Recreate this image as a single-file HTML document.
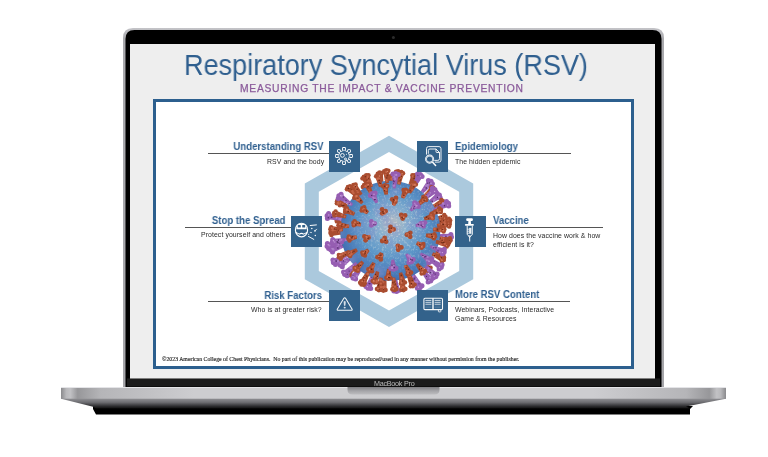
<!DOCTYPE html>
<html><head><meta charset="utf-8">
<style>
*{margin:0;padding:0;box-sizing:border-box}
html,body{width:768px;height:457px;background:#fff;overflow:hidden;position:relative;font-family:"Liberation Sans",sans-serif}
.abs{position:absolute}
#title,#sub,.t,.s,#copy,.mbp{will-change:transform}
#lid{left:123px;top:28px;width:541px;height:360px;border-radius:11px 11px 0 0;background:linear-gradient(#b9b9bc,#8c8c90);}
#bezel{left:125px;top:30px;width:537px;height:358px;border-radius:9px 9px 0 0;background:#000;}
#screen{left:130px;top:44px;width:525px;height:334px;background:#eeeeee;}
#chin{left:125px;top:378px;width:537px;height:10px;background:#111;}
#base{left:61px;top:387px;width:665px;height:14px;background:linear-gradient(#cfcfd2,#b8b8bb 60%,#8a8a8e);border-radius:0 0 40% 40%/0 0 100% 100%}
#title{left:184.3px;top:47.6px;font-size:29px;transform:scaleX(0.933);transform-origin:0 0;color:#2f5f8f;white-space:nowrap;line-height:34px}
#sub{left:240px;top:83px;font-size:10.3px;color:#8a5a9a;white-space:nowrap;letter-spacing:0.73px;-webkit-text-stroke:0.25px #8a5a9a;line-height:12px}
#frame{left:153px;top:99px;width:481px;height:270px;border:3px solid #2c5f8e;background:#fff}
.box{position:absolute;width:31px;height:31px;background:#33628b}
.line{position:absolute;height:1px;background:#555}
.t{position:absolute;font-weight:bold;font-size:10.5px;transform:scaleX(0.915);transform-origin:0 0;color:#2f5f8f;white-space:nowrap;line-height:12px}
.s{position:absolute;font-size:6.9px;letter-spacing:0.08px;color:#2a2a2a;white-space:nowrap;line-height:10px}
.r{text-align:right}
.t.r{transform-origin:100% 0}
#copy{left:162px;top:355.6px;font-family:"Liberation Serif",serif;font-size:5.82px;line-height:7px;color:#2a2a2a;-webkit-text-stroke:0.15px #2a2a2a;white-space:nowrap}
</style></head><body>
<svg class="abs" style="left:0;top:0" width="768" height="457">
<defs>
<linearGradient id="under" gradientUnits="userSpaceOnUse" x1="0" y1="398.7" x2="0" y2="409">
<stop offset="0" stop-color="#8e8e92"/><stop offset="0.35" stop-color="#6e6e72"/><stop offset="0.75" stop-color="#2a2a2c"/><stop offset="1" stop-color="#080808"/>
</linearGradient>
<linearGradient id="silv" x1="0" y1="0" x2="1" y2="0">
<stop offset="0" stop-color="#8a8a8d"/><stop offset="0.008" stop-color="#b9b9bc"/><stop offset="0.014" stop-color="#c2c2c5"/><stop offset="0.025" stop-color="#97979a"/><stop offset="0.06" stop-color="#b5b5b8"/><stop offset="0.2" stop-color="#cdcdd0"/>
<stop offset="0.8" stop-color="#cdcdd0"/><stop offset="0.94" stop-color="#b5b5b8"/><stop offset="0.975" stop-color="#97979a"/><stop offset="0.986" stop-color="#c2c2c5"/><stop offset="0.992" stop-color="#b9b9bc"/><stop offset="1" stop-color="#8a8a8d"/>
</linearGradient>
</defs>
<linearGradient id="rim" x1="0" y1="0" x2="0" y2="1"><stop offset="0" stop-color="#c4c4c8"/><stop offset="0.03" stop-color="#a9a9ad"/><stop offset="1" stop-color="#a5a5a9"/></linearGradient>
<path d="M123,387 V38 Q123,28 133,28 H654 Q664,28 664,38 V387 Z" fill="url(#rim)"/>
<path d="M125.5,387 V39 Q125.5,30 134.5,30 H652.5 Q661.5,30 661.5,39 V387 Z" fill="#000"/>
<rect x="127" y="378.4" width="533" height="8.1" fill="#1b1b1b"/>
<rect x="130" y="44" width="525" height="334.5" fill="#eeeeee"/>
<circle cx="393.4" cy="37.4" r="1.5" fill="#2c2c2c"/>
<path d="M93,406 H693 L690,409 V414.5 H96 L93,409 Z" fill="#000"/>
<path d="M61,387 H726 V398.7 L686,406.5 L690,408.5 H96 L93,406.8 L61,398.7 Z" fill="url(#under)"/>
<rect x="61" y="387" width="665" height="11.7" fill="url(#silv)"/>
<rect x="61" y="387" width="665" height="1" fill="#e4e4e7"/>
<linearGradient id="notch" x1="0" y1="0" x2="0" y2="1"><stop offset="0" stop-color="#7e7e82"/><stop offset="0.5" stop-color="#a4a4a8"/><stop offset="1" stop-color="#bdbdc0"/></linearGradient>
<path d="M347.5,387 H439.5 V389.5 Q439.5,394.6 434.5,394.6 H352.5 Q347.5,394.6 347.5,389.5 Z" fill="url(#notch)"/>
</svg>
<div class="abs mbp" style="left:373.5px;top:378.6px;font-size:7.2px;line-height:9px;color:#bdbdbd;white-space:nowrap;letter-spacing:-0.25px">MacBook Pro</div>
<div id="title" class="abs">Respiratory Syncytial Virus (RSV)</div>
<div id="sub" class="abs">MEASURING THE IMPACT &amp; VACCINE PREVENTION</div>
<div id="frame" class="abs"></div>
<svg class="abs" style="left:0;top:0" width="768" height="457">
<path fill-rule="evenodd" fill="#abc9dd" d="M389,135.7 L473.2,183.5 L473.2,279.2 L389,327 L304.8,279.2 L304.8,183.5 Z M389,152.1 L459.2,191.7 L459.2,271 L389,310.6 L318.8,271 L318.8,191.7 Z"/>
</svg>
<svg class="abs" style="left:0;top:0" width="768" height="457">
<defs>
<radialGradient id="sph" cx="0.52" cy="0.47" r="0.6" fx="0.52" fy="0.42">
<stop offset="0" stop-color="#c2c6c2"/>
<stop offset="0.25" stop-color="#86afd0"/>
<stop offset="0.55" stop-color="#5b96c8"/>
<stop offset="0.85" stop-color="#4573b4"/>
<stop offset="1" stop-color="#375a9e"/>
</radialGradient>
<radialGradient id="mg" cx="0.58" cy="0.45" r="0.55"><stop offset="0" stop-color="#fff"/><stop offset="0.6" stop-color="#888"/><stop offset="1" stop-color="#000"/></radialGradient>
<mask id="mk"><rect x="340.3" y="180.8" width="100.0" height="100.0" fill="url(#mg)"/></mask>
<clipPath id="sc"><circle cx="390.3" cy="230.8" r="50.0"/></clipPath>
<filter id="tx" x="0" y="0" width="1" height="1">
<feTurbulence type="fractalNoise" baseFrequency="0.05" numOctaves="2" seed="3"/>
<feColorMatrix type="matrix" values="0 0 0 0 0.22  0 0 0 0 0.28  0 0 0 0 0.58  0 0 0 -3 1.6"/>
</filter>
<filter id="tx2" x="0" y="0" width="1" height="1">
<feTurbulence type="fractalNoise" baseFrequency="0.45" numOctaves="2" seed="8"/>
<feColorMatrix type="matrix" values="0 0 0 0 0.93  0 0 0 0 0.9  0 0 0 0 0.82  0 0 0 3 -1.5"/>
</filter>
</defs>
<path d="M371.1,193.8 L367.3,184.3 L361.9,187.4 L368.2,195.5Z" fill="#aa4d30"/><circle cx="362.8" cy="186.9" r="2.2" fill="#aa4d30"/><circle cx="364.2" cy="185.2" r="2.4" fill="#aa4d30"/><circle cx="366.4" cy="184.8" r="2.2" fill="#aa4d30"/><circle cx="368.2" cy="193.3" r="1.2" fill="#c6674a"/><circle cx="364.7" cy="187.2" r="1.2" fill="#c6674a"/><circle cx="366.3" cy="187.2" r="1.1" fill="#c6674a"/><circle cx="365.2" cy="188.0" r="1.2" fill="#c6674a"/><circle cx="367.8" cy="191.5" r="1.2" fill="#c6674a"/><circle cx="365.2" cy="188.3" r="0.8" fill="#6a2814"/><circle cx="366.2" cy="188.2" r="0.5" fill="#6a2814"/><circle cx="365.7" cy="189.4" r="0.7" fill="#6a2814"/><circle cx="365.9" cy="185.7" r="0.7" fill="#dc8666"/><path d="M406.6,270.8 L409.8,281.1 L415.4,278.5 L409.7,269.4Z" fill="#aa4d30"/><circle cx="414.5" cy="278.9" r="2.2" fill="#aa4d30"/><circle cx="412.9" cy="280.4" r="2.4" fill="#aa4d30"/><circle cx="410.7" cy="280.7" r="2.2" fill="#aa4d30"/><circle cx="409.5" cy="275.6" r="1.1" fill="#c6674a"/><circle cx="412.3" cy="277.8" r="1.1" fill="#c6674a"/><circle cx="410.4" cy="278.0" r="1.0" fill="#c6674a"/><circle cx="410.6" cy="279.1" r="1.1" fill="#c6674a"/><circle cx="410.7" cy="280.4" r="1.1" fill="#c6674a"/><circle cx="411.9" cy="275.7" r="0.8" fill="#6a2814"/><circle cx="412.4" cy="279.3" r="0.7" fill="#6a2814"/><circle cx="410.9" cy="278.0" r="0.6" fill="#6a2814"/><circle cx="411.3" cy="279.8" r="0.7" fill="#dc8666"/><path d="M392.7,187.5 L394.3,176.8 L388.1,176.7 L389.3,187.4Z" fill="#aa4d30"/><circle cx="389.1" cy="176.8" r="2.2" fill="#aa4d30"/><circle cx="391.2" cy="176.1" r="2.4" fill="#aa4d30"/><circle cx="393.3" cy="176.8" r="2.2" fill="#aa4d30"/><circle cx="391.4" cy="178.9" r="1.1" fill="#c6674a"/><circle cx="391.5" cy="182.4" r="1.2" fill="#c6674a"/><circle cx="391.9" cy="180.3" r="0.8" fill="#c6674a"/><circle cx="390.9" cy="184.9" r="1.1" fill="#c6674a"/><circle cx="391.6" cy="184.3" r="1.1" fill="#c6674a"/><circle cx="391.0" cy="185.0" r="0.6" fill="#6a2814"/><circle cx="390.1" cy="184.8" r="0.6" fill="#6a2814"/><circle cx="390.2" cy="183.8" r="0.5" fill="#6a2814"/><circle cx="392.4" cy="177.3" r="0.7" fill="#dc8666"/><path d="M348.1,219.9 L337.9,216.3 L336.6,222.3 L347.3,223.2Z" fill="#aa4d30"/><circle cx="336.8" cy="221.4" r="2.2" fill="#aa4d30"/><circle cx="336.5" cy="219.2" r="2.4" fill="#aa4d30"/><circle cx="337.7" cy="217.3" r="2.2" fill="#aa4d30"/><circle cx="342.2" cy="220.8" r="1.1" fill="#c6674a"/><circle cx="340.9" cy="221.1" r="1.3" fill="#c6674a"/><circle cx="346.6" cy="221.6" r="0.9" fill="#c6674a"/><circle cx="342.5" cy="221.8" r="1.2" fill="#c6674a"/><circle cx="342.8" cy="222.1" r="1.1" fill="#c6674a"/><circle cx="344.8" cy="220.8" r="0.6" fill="#6a2814"/><circle cx="341.0" cy="218.7" r="0.7" fill="#6a2814"/><circle cx="342.3" cy="219.5" r="0.7" fill="#6a2814"/><circle cx="338.0" cy="218.2" r="0.7" fill="#dc8666"/><path d="M410.2,191.8 L418.4,179.5 L412.3,176.5 L407.9,190.7Z" fill="#965eb2"/><circle cx="413.0" cy="176.9" r="2.5" fill="#965eb2"/><circle cx="415.6" cy="177.4" r="2.7" fill="#965eb2"/><circle cx="417.7" cy="179.1" r="2.5" fill="#965eb2"/><circle cx="410.8" cy="185.0" r="1.1" fill="#ad80c8"/><circle cx="414.4" cy="183.9" r="1.3" fill="#ad80c8"/><circle cx="412.6" cy="182.4" r="1.2" fill="#ad80c8"/><circle cx="408.9" cy="189.5" r="1.1" fill="#ad80c8"/><circle cx="411.9" cy="182.0" r="1.1" fill="#ad80c8"/><circle cx="414.4" cy="178.9" r="0.6" fill="#4e2c66"/><circle cx="411.0" cy="186.0" r="0.8" fill="#4e2c66"/><circle cx="413.4" cy="185.1" r="0.8" fill="#4e2c66"/><circle cx="416.2" cy="179.0" r="0.7" fill="#c9a0dc"/><path d="M420.3,262.9 L427.0,271.5 L431.3,267.1 L422.7,260.5Z" fill="#aa4d30"/><circle cx="430.6" cy="267.8" r="2.2" fill="#aa4d30"/><circle cx="429.7" cy="269.8" r="2.4" fill="#aa4d30"/><circle cx="427.7" cy="270.8" r="2.2" fill="#aa4d30"/><circle cx="427.0" cy="265.9" r="1.3" fill="#c6674a"/><circle cx="425.9" cy="265.6" r="1.0" fill="#c6674a"/><circle cx="429.1" cy="269.2" r="0.9" fill="#c6674a"/><circle cx="426.4" cy="264.8" r="1.1" fill="#c6674a"/><circle cx="425.8" cy="265.0" r="1.2" fill="#c6674a"/><circle cx="429.3" cy="267.0" r="0.7" fill="#6a2814"/><circle cx="423.8" cy="265.7" r="0.7" fill="#6a2814"/><circle cx="425.0" cy="264.3" r="0.5" fill="#6a2814"/><circle cx="428.0" cy="269.8" r="0.7" fill="#dc8666"/><path d="M361.8,264.9 L350.9,275.3 L356.3,279.6 L363.8,266.5Z" fill="#965eb2"/><circle cx="355.6" cy="279.1" r="2.5" fill="#965eb2"/><circle cx="353.2" cy="278.0" r="2.7" fill="#965eb2"/><circle cx="351.6" cy="275.8" r="2.5" fill="#965eb2"/><circle cx="354.5" cy="277.9" r="1.1" fill="#ad80c8"/><circle cx="357.6" cy="271.6" r="1.1" fill="#ad80c8"/><circle cx="356.9" cy="275.7" r="1.2" fill="#ad80c8"/><circle cx="359.3" cy="270.0" r="1.0" fill="#ad80c8"/><circle cx="359.4" cy="270.0" r="1.0" fill="#ad80c8"/><circle cx="357.8" cy="271.0" r="0.7" fill="#4e2c66"/><circle cx="361.1" cy="268.8" r="0.6" fill="#4e2c66"/><circle cx="353.0" cy="275.7" r="0.7" fill="#4e2c66"/><circle cx="353.0" cy="276.3" r="0.7" fill="#c9a0dc"/><path d="M427.3,205.6 L440.7,198.4 L436.7,192.9 L425.8,203.5Z" fill="#965eb2"/><circle cx="437.1" cy="193.6" r="2.5" fill="#965eb2"/><circle cx="439.2" cy="195.3" r="2.7" fill="#965eb2"/><circle cx="440.2" cy="197.8" r="2.5" fill="#965eb2"/><circle cx="428.2" cy="204.0" r="1.0" fill="#ad80c8"/><circle cx="434.5" cy="199.7" r="1.1" fill="#ad80c8"/><circle cx="433.8" cy="200.9" r="1.0" fill="#ad80c8"/><circle cx="432.7" cy="201.4" r="0.9" fill="#ad80c8"/><circle cx="431.5" cy="202.1" r="0.8" fill="#ad80c8"/><circle cx="437.5" cy="197.4" r="0.6" fill="#4e2c66"/><circle cx="432.2" cy="201.3" r="0.8" fill="#4e2c66"/><circle cx="430.3" cy="201.7" r="0.7" fill="#4e2c66"/><circle cx="439.0" cy="197.0" r="0.7" fill="#c9a0dc"/><path d="M352.6,255.0 L339.0,261.8 L342.8,267.4 L354.0,257.2Z" fill="#965eb2"/><circle cx="342.3" cy="266.8" r="2.5" fill="#965eb2"/><circle cx="340.3" cy="265.0" r="2.7" fill="#965eb2"/><circle cx="339.4" cy="262.5" r="2.5" fill="#965eb2"/><circle cx="346.8" cy="261.2" r="0.9" fill="#ad80c8"/><circle cx="344.9" cy="260.5" r="0.8" fill="#ad80c8"/><circle cx="349.0" cy="258.0" r="1.2" fill="#ad80c8"/><circle cx="345.7" cy="263.5" r="1.2" fill="#ad80c8"/><circle cx="339.8" cy="262.5" r="1.2" fill="#ad80c8"/><circle cx="349.9" cy="257.5" r="0.6" fill="#4e2c66"/><circle cx="343.5" cy="260.9" r="0.7" fill="#4e2c66"/><circle cx="349.8" cy="259.1" r="0.8" fill="#4e2c66"/><circle cx="340.6" cy="263.3" r="0.7" fill="#c9a0dc"/><path d="M393.7,275.7 L393.1,290.9 L399.9,290.2 L396.2,275.4Z" fill="#965eb2"/><circle cx="399.1" cy="290.3" r="2.5" fill="#965eb2"/><circle cx="396.6" cy="291.3" r="2.7" fill="#965eb2"/><circle cx="393.9" cy="290.9" r="2.5" fill="#965eb2"/><circle cx="395.0" cy="279.1" r="1.0" fill="#ad80c8"/><circle cx="395.0" cy="279.3" r="0.8" fill="#ad80c8"/><circle cx="395.5" cy="278.5" r="0.8" fill="#ad80c8"/><circle cx="395.0" cy="277.9" r="1.2" fill="#ad80c8"/><circle cx="398.0" cy="288.8" r="1.0" fill="#ad80c8"/><circle cx="395.4" cy="282.4" r="0.6" fill="#4e2c66"/><circle cx="396.9" cy="289.8" r="0.5" fill="#4e2c66"/><circle cx="397.3" cy="286.8" r="0.7" fill="#4e2c66"/><circle cx="395.3" cy="290.2" r="0.7" fill="#c9a0dc"/><path d="M434.3,221.4 L445.5,220.0 L444.0,214.0 L433.5,218.1Z" fill="#aa4d30"/><circle cx="444.3" cy="215.0" r="2.2" fill="#aa4d30"/><circle cx="445.4" cy="216.9" r="2.4" fill="#aa4d30"/><circle cx="445.3" cy="219.1" r="2.2" fill="#aa4d30"/><circle cx="440.3" cy="219.6" r="1.1" fill="#c6674a"/><circle cx="440.9" cy="217.1" r="1.1" fill="#c6674a"/><circle cx="437.7" cy="219.6" r="1.1" fill="#c6674a"/><circle cx="436.1" cy="218.4" r="1.0" fill="#c6674a"/><circle cx="441.9" cy="216.5" r="1.2" fill="#c6674a"/><circle cx="441.4" cy="216.5" r="0.7" fill="#6a2814"/><circle cx="436.7" cy="218.1" r="0.7" fill="#6a2814"/><circle cx="438.4" cy="219.7" r="0.6" fill="#6a2814"/><circle cx="444.6" cy="218.3" r="0.7" fill="#dc8666"/><path d="M351.5,207.4 L342.4,200.7 L339.3,206.1 L349.9,210.4Z" fill="#aa4d30"/><circle cx="339.8" cy="205.3" r="2.2" fill="#aa4d30"/><circle cx="340.2" cy="203.1" r="2.4" fill="#aa4d30"/><circle cx="341.9" cy="201.6" r="2.2" fill="#aa4d30"/><circle cx="347.3" cy="205.9" r="0.8" fill="#c6674a"/><circle cx="342.5" cy="206.3" r="0.9" fill="#c6674a"/><circle cx="341.6" cy="203.0" r="0.9" fill="#c6674a"/><circle cx="349.3" cy="206.6" r="1.1" fill="#c6674a"/><circle cx="341.7" cy="205.6" r="1.1" fill="#c6674a"/><circle cx="345.6" cy="206.9" r="0.6" fill="#6a2814"/><circle cx="343.7" cy="205.5" r="0.6" fill="#6a2814"/><circle cx="348.1" cy="206.5" r="0.7" fill="#6a2814"/><circle cx="341.9" cy="202.6" r="0.7" fill="#dc8666"/><path d="M435.3,236.8 L450.2,240.4 L450.9,233.7 L435.5,234.2Z" fill="#965eb2"/><circle cx="450.9" cy="234.5" r="2.5" fill="#965eb2"/><circle cx="451.3" cy="237.1" r="2.7" fill="#965eb2"/><circle cx="450.3" cy="239.7" r="2.5" fill="#965eb2"/><circle cx="447.9" cy="236.5" r="1.2" fill="#ad80c8"/><circle cx="444.0" cy="236.7" r="1.1" fill="#ad80c8"/><circle cx="447.1" cy="236.3" r="0.8" fill="#ad80c8"/><circle cx="437.4" cy="235.0" r="0.8" fill="#ad80c8"/><circle cx="449.1" cy="236.8" r="1.2" fill="#ad80c8"/><circle cx="438.5" cy="235.7" r="0.8" fill="#4e2c66"/><circle cx="446.0" cy="236.4" r="0.6" fill="#4e2c66"/><circle cx="439.7" cy="235.2" r="0.5" fill="#4e2c66"/><circle cx="450.0" cy="238.2" r="0.7" fill="#c9a0dc"/><path d="M372.6,272.7 L365.1,286.3 L371.5,288.7 L375.1,273.7Z" fill="#965eb2"/><circle cx="370.7" cy="288.4" r="2.5" fill="#965eb2"/><circle cx="368.1" cy="288.1" r="2.7" fill="#965eb2"/><circle cx="365.9" cy="286.5" r="2.5" fill="#965eb2"/><circle cx="371.8" cy="279.6" r="1.2" fill="#ad80c8"/><circle cx="373.1" cy="276.8" r="0.9" fill="#ad80c8"/><circle cx="373.0" cy="276.9" r="0.9" fill="#ad80c8"/><circle cx="372.4" cy="281.4" r="1.3" fill="#ad80c8"/><circle cx="370.2" cy="278.9" r="1.1" fill="#ad80c8"/><circle cx="369.8" cy="283.8" r="0.8" fill="#4e2c66"/><circle cx="371.9" cy="277.3" r="0.6" fill="#4e2c66"/><circle cx="369.0" cy="283.5" r="0.5" fill="#4e2c66"/><circle cx="367.4" cy="286.6" r="0.7" fill="#c9a0dc"/><path d="M360.7,195.9 L354.1,186.5 L349.5,190.7 L358.2,198.1Z" fill="#aa4d30"/><circle cx="350.2" cy="190.0" r="2.2" fill="#aa4d30"/><circle cx="351.3" cy="188.1" r="2.4" fill="#aa4d30"/><circle cx="353.3" cy="187.2" r="2.2" fill="#aa4d30"/><circle cx="356.3" cy="195.6" r="0.9" fill="#c6674a"/><circle cx="358.0" cy="195.7" r="1.3" fill="#c6674a"/><circle cx="355.7" cy="193.8" r="1.0" fill="#c6674a"/><circle cx="357.3" cy="193.5" r="1.2" fill="#c6674a"/><circle cx="357.0" cy="195.4" r="1.1" fill="#c6674a"/><circle cx="352.5" cy="188.6" r="0.6" fill="#6a2814"/><circle cx="350.6" cy="190.0" r="0.5" fill="#6a2814"/><circle cx="352.9" cy="190.3" r="0.5" fill="#6a2814"/><circle cx="353.0" cy="188.1" r="0.7" fill="#dc8666"/><path d="M346.1,243.6 L330.7,246.3 L332.8,252.8 L346.9,246.1Z" fill="#965eb2"/><circle cx="332.5" cy="252.0" r="2.5" fill="#965eb2"/><circle cx="331.0" cy="249.8" r="2.7" fill="#965eb2"/><circle cx="330.9" cy="247.1" r="2.5" fill="#965eb2"/><circle cx="337.2" cy="246.0" r="1.1" fill="#ad80c8"/><circle cx="340.7" cy="248.0" r="0.8" fill="#ad80c8"/><circle cx="333.1" cy="249.2" r="1.3" fill="#ad80c8"/><circle cx="344.5" cy="246.1" r="0.8" fill="#ad80c8"/><circle cx="340.2" cy="248.3" r="0.9" fill="#ad80c8"/><circle cx="338.9" cy="247.9" r="0.5" fill="#4e2c66"/><circle cx="342.8" cy="245.0" r="0.6" fill="#4e2c66"/><circle cx="337.6" cy="248.0" r="0.7" fill="#4e2c66"/><circle cx="331.8" cy="248.3" r="0.7" fill="#c9a0dc"/><path d="M431.3,252.3 L441.1,258.5 L443.8,253.0 L432.7,249.2Z" fill="#aa4d30"/><circle cx="443.3" cy="253.9" r="2.2" fill="#aa4d30"/><circle cx="443.1" cy="256.1" r="2.4" fill="#aa4d30"/><circle cx="441.5" cy="257.6" r="2.2" fill="#aa4d30"/><circle cx="434.1" cy="251.2" r="0.9" fill="#c6674a"/><circle cx="437.5" cy="255.0" r="1.1" fill="#c6674a"/><circle cx="441.6" cy="254.1" r="0.8" fill="#c6674a"/><circle cx="438.1" cy="253.6" r="1.1" fill="#c6674a"/><circle cx="436.4" cy="253.3" r="1.2" fill="#c6674a"/><circle cx="442.0" cy="254.8" r="0.6" fill="#6a2814"/><circle cx="441.4" cy="254.2" r="0.5" fill="#6a2814"/><circle cx="437.2" cy="252.0" r="0.7" fill="#6a2814"/><circle cx="441.5" cy="256.6" r="0.7" fill="#dc8666"/><path d="M383.6,184.5 L382.8,172.7 L376.7,173.9 L380.2,185.1Z" fill="#aa4d30"/><circle cx="377.7" cy="173.7" r="2.2" fill="#aa4d30"/><circle cx="379.6" cy="172.6" r="2.4" fill="#aa4d30"/><circle cx="381.8" cy="172.9" r="2.2" fill="#aa4d30"/><circle cx="379.4" cy="175.3" r="0.9" fill="#c6674a"/><circle cx="380.8" cy="183.0" r="0.8" fill="#c6674a"/><circle cx="381.1" cy="179.2" r="0.9" fill="#c6674a"/><circle cx="382.1" cy="182.9" r="0.8" fill="#c6674a"/><circle cx="380.7" cy="181.7" r="1.0" fill="#c6674a"/><circle cx="381.1" cy="181.7" r="0.6" fill="#6a2814"/><circle cx="380.4" cy="175.6" r="0.8" fill="#6a2814"/><circle cx="381.2" cy="176.3" r="0.7" fill="#6a2814"/><circle cx="381.0" cy="173.6" r="0.7" fill="#dc8666"/><path d="M343.1,230.8 L331.2,229.8 L331.4,236.0 L343.2,234.2Z" fill="#aa4d30"/><circle cx="331.4" cy="235.0" r="2.2" fill="#aa4d30"/><circle cx="330.6" cy="232.9" r="2.4" fill="#aa4d30"/><circle cx="331.3" cy="230.8" r="2.2" fill="#aa4d30"/><circle cx="337.2" cy="231.6" r="1.1" fill="#c6674a"/><circle cx="331.8" cy="231.9" r="1.2" fill="#c6674a"/><circle cx="339.1" cy="231.7" r="1.0" fill="#c6674a"/><circle cx="340.6" cy="233.8" r="0.9" fill="#c6674a"/><circle cx="339.2" cy="232.1" r="0.9" fill="#c6674a"/><circle cx="340.2" cy="232.0" r="0.7" fill="#6a2814"/><circle cx="340.6" cy="233.7" r="0.5" fill="#6a2814"/><circle cx="337.4" cy="231.7" r="0.8" fill="#6a2814"/><circle cx="331.8" cy="231.7" r="0.7" fill="#dc8666"/><path d="M421.3,195.2 L433.1,184.2 L427.8,179.9 L419.3,193.5Z" fill="#965eb2"/><circle cx="428.4" cy="180.4" r="2.5" fill="#965eb2"/><circle cx="430.9" cy="181.5" r="2.7" fill="#965eb2"/><circle cx="432.4" cy="183.7" r="2.5" fill="#965eb2"/><circle cx="426.1" cy="185.7" r="1.0" fill="#ad80c8"/><circle cx="424.2" cy="188.8" r="0.8" fill="#ad80c8"/><circle cx="427.6" cy="187.4" r="1.2" fill="#ad80c8"/><circle cx="422.2" cy="192.1" r="0.9" fill="#ad80c8"/><circle cx="427.6" cy="185.1" r="1.3" fill="#ad80c8"/><circle cx="427.7" cy="183.2" r="0.6" fill="#4e2c66"/><circle cx="429.6" cy="182.8" r="0.6" fill="#4e2c66"/><circle cx="426.5" cy="188.0" r="0.8" fill="#4e2c66"/><circle cx="431.0" cy="183.2" r="0.7" fill="#c9a0dc"/><path d="M411.1,273.4 L416.7,288.6 L422.7,285.4 L413.4,272.2Z" fill="#965eb2"/><circle cx="422.0" cy="285.8" r="2.5" fill="#965eb2"/><circle cx="420.0" cy="287.6" r="2.7" fill="#965eb2"/><circle cx="417.4" cy="288.2" r="2.5" fill="#965eb2"/><circle cx="415.1" cy="281.8" r="1.1" fill="#ad80c8"/><circle cx="413.0" cy="275.9" r="1.0" fill="#ad80c8"/><circle cx="412.4" cy="275.4" r="0.8" fill="#ad80c8"/><circle cx="416.9" cy="281.6" r="1.2" fill="#ad80c8"/><circle cx="416.4" cy="278.8" r="0.9" fill="#ad80c8"/><circle cx="414.8" cy="278.0" r="0.6" fill="#4e2c66"/><circle cx="419.0" cy="283.8" r="0.6" fill="#4e2c66"/><circle cx="414.1" cy="279.0" r="0.8" fill="#4e2c66"/><circle cx="418.4" cy="287.1" r="0.7" fill="#c9a0dc"/><path d="M398.2,184.0 L401.1,172.4 L395.0,171.6 L394.8,183.6Z" fill="#aa4d30"/><circle cx="396.0" cy="171.7" r="2.2" fill="#aa4d30"/><circle cx="398.1" cy="171.3" r="2.4" fill="#aa4d30"/><circle cx="400.1" cy="172.3" r="2.2" fill="#aa4d30"/><circle cx="398.3" cy="173.7" r="1.0" fill="#c6674a"/><circle cx="397.8" cy="181.2" r="1.0" fill="#c6674a"/><circle cx="395.8" cy="182.1" r="0.8" fill="#c6674a"/><circle cx="399.2" cy="175.2" r="0.9" fill="#c6674a"/><circle cx="397.1" cy="174.1" r="1.1" fill="#c6674a"/><circle cx="398.3" cy="173.4" r="0.7" fill="#6a2814"/><circle cx="395.9" cy="177.7" r="0.7" fill="#6a2814"/><circle cx="396.5" cy="175.8" r="0.6" fill="#6a2814"/><circle cx="399.2" cy="172.7" r="0.7" fill="#dc8666"/><path d="M371.0,187.4 L367.1,176.1 L361.5,178.8 L368.0,188.9Z" fill="#aa4d30"/><circle cx="362.4" cy="178.4" r="2.2" fill="#aa4d30"/><circle cx="364.0" cy="176.8" r="2.4" fill="#aa4d30"/><circle cx="366.2" cy="176.5" r="2.2" fill="#aa4d30"/><circle cx="366.2" cy="184.7" r="1.0" fill="#c6674a"/><circle cx="367.1" cy="183.4" r="1.2" fill="#c6674a"/><circle cx="368.5" cy="182.6" r="1.2" fill="#c6674a"/><circle cx="365.4" cy="177.8" r="1.1" fill="#c6674a"/><circle cx="367.4" cy="181.5" r="1.0" fill="#c6674a"/><circle cx="366.5" cy="180.7" r="0.7" fill="#6a2814"/><circle cx="366.2" cy="184.1" r="0.5" fill="#6a2814"/><circle cx="367.2" cy="182.9" r="0.7" fill="#6a2814"/><circle cx="365.6" cy="177.4" r="0.7" fill="#dc8666"/><path d="M383.2,277.7 L380.4,289.4 L386.6,290.1 L386.5,278.1Z" fill="#aa4d30"/><circle cx="385.6" cy="290.0" r="2.2" fill="#aa4d30"/><circle cx="383.4" cy="290.5" r="2.4" fill="#aa4d30"/><circle cx="381.4" cy="289.5" r="2.2" fill="#aa4d30"/><circle cx="384.6" cy="286.8" r="1.3" fill="#c6674a"/><circle cx="383.7" cy="282.0" r="0.8" fill="#c6674a"/><circle cx="383.1" cy="287.1" r="1.3" fill="#c6674a"/><circle cx="382.8" cy="288.6" r="1.2" fill="#c6674a"/><circle cx="383.4" cy="286.9" r="0.9" fill="#c6674a"/><circle cx="382.8" cy="285.0" r="0.6" fill="#6a2814"/><circle cx="383.4" cy="289.5" r="0.6" fill="#6a2814"/><circle cx="384.8" cy="280.3" r="0.6" fill="#6a2814"/><circle cx="382.4" cy="289.1" r="0.7" fill="#dc8666"/><path d="M422.9,265.5 L432.8,278.4 L437.6,273.6 L424.8,263.6Z" fill="#965eb2"/><circle cx="437.1" cy="274.1" r="2.5" fill="#965eb2"/><circle cx="435.7" cy="276.5" r="2.7" fill="#965eb2"/><circle cx="433.4" cy="277.8" r="2.5" fill="#965eb2"/><circle cx="430.6" cy="273.5" r="1.3" fill="#ad80c8"/><circle cx="431.6" cy="271.7" r="0.9" fill="#ad80c8"/><circle cx="431.9" cy="272.9" r="1.2" fill="#ad80c8"/><circle cx="428.0" cy="270.4" r="0.9" fill="#ad80c8"/><circle cx="428.6" cy="268.4" r="1.1" fill="#ad80c8"/><circle cx="435.2" cy="274.1" r="0.7" fill="#4e2c66"/><circle cx="433.8" cy="273.1" r="0.5" fill="#4e2c66"/><circle cx="430.5" cy="272.8" r="0.8" fill="#4e2c66"/><circle cx="434.0" cy="276.5" r="0.7" fill="#c9a0dc"/><path d="M432.8,209.1 L444.0,204.5 L441.0,199.1 L431.2,206.1Z" fill="#aa4d30"/><circle cx="441.5" cy="200.0" r="2.2" fill="#aa4d30"/><circle cx="443.1" cy="201.4" r="2.4" fill="#aa4d30"/><circle cx="443.5" cy="203.6" r="2.2" fill="#aa4d30"/><circle cx="439.8" cy="202.9" r="1.0" fill="#c6674a"/><circle cx="438.7" cy="205.5" r="1.0" fill="#c6674a"/><circle cx="435.9" cy="205.8" r="1.3" fill="#c6674a"/><circle cx="434.2" cy="204.9" r="0.9" fill="#c6674a"/><circle cx="438.5" cy="204.4" r="0.9" fill="#c6674a"/><circle cx="435.8" cy="205.8" r="0.7" fill="#6a2814"/><circle cx="440.3" cy="203.9" r="0.5" fill="#6a2814"/><circle cx="438.7" cy="205.1" r="0.8" fill="#6a2814"/><circle cx="442.6" cy="203.1" r="0.7" fill="#dc8666"/><path d="M411.0,187.7 L417.1,177.3 L411.4,174.8 L407.9,186.3Z" fill="#aa4d30"/><circle cx="412.4" cy="175.2" r="2.2" fill="#aa4d30"/><circle cx="414.6" cy="175.4" r="2.4" fill="#aa4d30"/><circle cx="416.2" cy="176.9" r="2.2" fill="#aa4d30"/><circle cx="412.3" cy="183.2" r="1.1" fill="#c6674a"/><circle cx="412.9" cy="176.3" r="1.1" fill="#c6674a"/><circle cx="413.5" cy="177.6" r="0.9" fill="#c6674a"/><circle cx="409.9" cy="183.6" r="0.8" fill="#c6674a"/><circle cx="410.9" cy="184.6" r="0.9" fill="#c6674a"/><circle cx="414.1" cy="178.5" r="0.7" fill="#6a2814"/><circle cx="414.2" cy="178.0" r="0.8" fill="#6a2814"/><circle cx="414.5" cy="176.6" r="0.8" fill="#6a2814"/><circle cx="415.2" cy="176.9" r="0.7" fill="#dc8666"/><path d="M344.1,218.5 L328.8,212.7 L327.2,219.3 L343.5,221.0Z" fill="#965eb2"/><circle cx="327.4" cy="218.5" r="2.5" fill="#965eb2"/><circle cx="327.3" cy="215.8" r="2.7" fill="#965eb2"/><circle cx="328.6" cy="213.5" r="2.5" fill="#965eb2"/><circle cx="340.5" cy="220.0" r="0.8" fill="#ad80c8"/><circle cx="339.2" cy="219.0" r="1.0" fill="#ad80c8"/><circle cx="332.8" cy="216.2" r="0.8" fill="#ad80c8"/><circle cx="336.5" cy="217.9" r="1.0" fill="#ad80c8"/><circle cx="340.6" cy="218.8" r="1.0" fill="#ad80c8"/><circle cx="332.0" cy="217.0" r="0.8" fill="#4e2c66"/><circle cx="328.3" cy="217.8" r="0.7" fill="#4e2c66"/><circle cx="331.3" cy="217.5" r="0.5" fill="#4e2c66"/><circle cx="328.8" cy="215.0" r="0.7" fill="#c9a0dc"/><path d="M437.7,224.4 L449.9,223.7 L448.8,217.6 L437.2,221.0Z" fill="#aa4d30"/><circle cx="449.0" cy="218.6" r="2.2" fill="#aa4d30"/><circle cx="450.0" cy="220.5" r="2.4" fill="#aa4d30"/><circle cx="449.7" cy="222.7" r="2.2" fill="#aa4d30"/><circle cx="443.7" cy="221.1" r="1.2" fill="#c6674a"/><circle cx="448.4" cy="220.3" r="0.9" fill="#c6674a"/><circle cx="444.1" cy="222.2" r="1.2" fill="#c6674a"/><circle cx="444.7" cy="220.7" r="1.0" fill="#c6674a"/><circle cx="447.7" cy="221.0" r="0.8" fill="#c6674a"/><circle cx="443.7" cy="220.8" r="0.7" fill="#6a2814"/><circle cx="440.4" cy="221.6" r="0.5" fill="#6a2814"/><circle cx="444.6" cy="222.9" r="0.7" fill="#6a2814"/><circle cx="449.0" cy="221.9" r="0.7" fill="#dc8666"/><path d="M355.4,263.6 L345.9,271.2 L350.3,275.5 L357.8,266.0Z" fill="#aa4d30"/><circle cx="349.6" cy="274.8" r="2.2" fill="#aa4d30"/><circle cx="347.6" cy="273.8" r="2.4" fill="#aa4d30"/><circle cx="346.6" cy="271.9" r="2.2" fill="#aa4d30"/><circle cx="351.8" cy="267.6" r="0.8" fill="#c6674a"/><circle cx="352.3" cy="267.7" r="0.8" fill="#c6674a"/><circle cx="350.3" cy="271.9" r="0.8" fill="#c6674a"/><circle cx="353.9" cy="267.7" r="1.0" fill="#c6674a"/><circle cx="352.9" cy="270.7" r="0.9" fill="#c6674a"/><circle cx="348.4" cy="273.3" r="0.6" fill="#6a2814"/><circle cx="354.7" cy="267.5" r="0.8" fill="#6a2814"/><circle cx="350.2" cy="271.2" r="0.5" fill="#6a2814"/><circle cx="347.6" cy="272.2" r="0.7" fill="#dc8666"/><path d="M399.0,278.0 L400.3,290.0 L406.3,288.7 L402.4,277.2Z" fill="#aa4d30"/><circle cx="405.4" cy="288.9" r="2.2" fill="#aa4d30"/><circle cx="403.5" cy="290.1" r="2.4" fill="#aa4d30"/><circle cx="401.3" cy="289.8" r="2.2" fill="#aa4d30"/><circle cx="401.0" cy="283.1" r="1.0" fill="#c6674a"/><circle cx="400.9" cy="285.4" r="1.1" fill="#c6674a"/><circle cx="404.1" cy="285.1" r="0.8" fill="#c6674a"/><circle cx="403.1" cy="286.9" r="1.2" fill="#c6674a"/><circle cx="401.3" cy="287.9" r="1.0" fill="#c6674a"/><circle cx="402.4" cy="289.6" r="0.8" fill="#6a2814"/><circle cx="400.8" cy="281.5" r="0.6" fill="#6a2814"/><circle cx="401.5" cy="289.5" r="0.6" fill="#6a2814"/><circle cx="402.0" cy="289.1" r="0.7" fill="#dc8666"/><path d="M437.4,240.1 L449.1,243.3 L450.0,237.2 L437.9,236.7Z" fill="#aa4d30"/><circle cx="449.9" cy="238.2" r="2.2" fill="#aa4d30"/><circle cx="450.2" cy="240.4" r="2.4" fill="#aa4d30"/><circle cx="449.2" cy="242.4" r="2.2" fill="#aa4d30"/><circle cx="443.5" cy="238.5" r="1.0" fill="#c6674a"/><circle cx="441.8" cy="239.6" r="0.9" fill="#c6674a"/><circle cx="440.7" cy="238.7" r="0.8" fill="#c6674a"/><circle cx="442.7" cy="240.5" r="1.2" fill="#c6674a"/><circle cx="441.2" cy="237.5" r="1.2" fill="#c6674a"/><circle cx="449.1" cy="240.6" r="0.5" fill="#6a2814"/><circle cx="442.1" cy="240.2" r="0.8" fill="#6a2814"/><circle cx="440.4" cy="238.1" r="0.6" fill="#6a2814"/><circle cx="448.9" cy="241.4" r="0.7" fill="#dc8666"/><path d="M366.2,272.3 L359.2,282.3 L364.7,285.2 L369.2,273.9Z" fill="#aa4d30"/><circle cx="363.8" cy="284.7" r="2.2" fill="#aa4d30"/><circle cx="361.6" cy="284.4" r="2.4" fill="#aa4d30"/><circle cx="360.1" cy="282.7" r="2.2" fill="#aa4d30"/><circle cx="365.1" cy="276.3" r="1.0" fill="#c6674a"/><circle cx="364.3" cy="282.2" r="1.1" fill="#c6674a"/><circle cx="361.3" cy="283.1" r="0.8" fill="#c6674a"/><circle cx="366.2" cy="275.0" r="1.0" fill="#c6674a"/><circle cx="365.3" cy="277.7" r="1.1" fill="#c6674a"/><circle cx="363.0" cy="283.9" r="0.7" fill="#6a2814"/><circle cx="365.2" cy="277.4" r="0.7" fill="#6a2814"/><circle cx="366.0" cy="276.4" r="0.7" fill="#6a2814"/><circle cx="361.2" cy="282.7" r="0.7" fill="#dc8666"/><path d="M358.1,195.2 L350.7,185.5 L346.2,189.9 L355.7,197.6Z" fill="#aa4d30"/><circle cx="346.9" cy="189.2" r="2.2" fill="#aa4d30"/><circle cx="348.0" cy="187.2" r="2.4" fill="#aa4d30"/><circle cx="350.0" cy="186.2" r="2.2" fill="#aa4d30"/><circle cx="356.5" cy="194.9" r="1.0" fill="#c6674a"/><circle cx="352.5" cy="191.3" r="1.2" fill="#c6674a"/><circle cx="355.6" cy="195.1" r="0.8" fill="#c6674a"/><circle cx="352.7" cy="192.8" r="0.8" fill="#c6674a"/><circle cx="353.7" cy="193.3" r="1.1" fill="#c6674a"/><circle cx="348.6" cy="188.5" r="0.7" fill="#6a2814"/><circle cx="351.4" cy="188.7" r="0.8" fill="#6a2814"/><circle cx="348.0" cy="188.3" r="0.5" fill="#6a2814"/><circle cx="349.7" cy="187.2" r="0.7" fill="#dc8666"/><path d="M349.2,205.9 L339.4,198.8 L336.3,204.2 L347.6,208.9Z" fill="#aa4d30"/><circle cx="336.8" cy="203.3" r="2.2" fill="#aa4d30"/><circle cx="337.2" cy="201.2" r="2.4" fill="#aa4d30"/><circle cx="338.9" cy="199.7" r="2.2" fill="#aa4d30"/><circle cx="337.6" cy="203.4" r="1.0" fill="#c6674a"/><circle cx="340.4" cy="202.8" r="1.0" fill="#c6674a"/><circle cx="338.1" cy="202.6" r="1.1" fill="#c6674a"/><circle cx="338.7" cy="203.7" r="1.0" fill="#c6674a"/><circle cx="342.8" cy="204.0" r="0.9" fill="#c6674a"/><circle cx="341.8" cy="205.2" r="0.5" fill="#6a2814"/><circle cx="342.9" cy="205.5" r="0.8" fill="#6a2814"/><circle cx="343.8" cy="205.5" r="0.7" fill="#6a2814"/><circle cx="338.9" cy="200.7" r="0.7" fill="#dc8666"/><path d="M347.8,253.1 L332.5,259.2 L335.9,265.1 L349.0,255.4Z" fill="#965eb2"/><circle cx="335.5" cy="264.4" r="2.5" fill="#965eb2"/><circle cx="333.6" cy="262.5" r="2.7" fill="#965eb2"/><circle cx="332.9" cy="259.9" r="2.5" fill="#965eb2"/><circle cx="338.0" cy="261.2" r="1.2" fill="#ad80c8"/><circle cx="339.2" cy="259.9" r="1.1" fill="#ad80c8"/><circle cx="344.2" cy="257.4" r="1.2" fill="#ad80c8"/><circle cx="340.7" cy="257.0" r="0.9" fill="#ad80c8"/><circle cx="345.8" cy="257.0" r="1.2" fill="#ad80c8"/><circle cx="339.9" cy="260.8" r="0.5" fill="#4e2c66"/><circle cx="336.2" cy="261.1" r="0.8" fill="#4e2c66"/><circle cx="345.0" cy="255.9" r="0.5" fill="#4e2c66"/><circle cx="334.0" cy="260.9" r="0.7" fill="#c9a0dc"/>
<circle cx="390.3" cy="230.8" r="50.0" fill="url(#sph)"/>
<g clip-path="url(#sc)">
<rect x="340.3" y="180.8" width="100.0" height="100.0" filter="url(#tx)" opacity="0.7"/>
<rect x="340.3" y="180.8" width="100.0" height="100.0" filter="url(#tx2)" opacity="0.55" mask="url(#mk)"/>
</g>
<path d="M431.6,255.3 L441.6,262.3 L444.5,256.9 L433.2,252.3Z" fill="#aa4d30"/><circle cx="444.1" cy="257.8" r="2.2" fill="#aa4d30"/><circle cx="443.7" cy="259.9" r="2.4" fill="#aa4d30"/><circle cx="442.0" cy="261.4" r="2.2" fill="#aa4d30"/><circle cx="440.2" cy="258.5" r="1.1" fill="#c6674a"/><circle cx="435.0" cy="256.7" r="0.9" fill="#c6674a"/><circle cx="433.9" cy="255.1" r="0.8" fill="#c6674a"/><circle cx="434.2" cy="254.6" r="1.1" fill="#c6674a"/><circle cx="441.6" cy="259.8" r="0.8" fill="#c6674a"/><circle cx="439.5" cy="258.9" r="0.5" fill="#6a2814"/><circle cx="441.4" cy="257.7" r="0.6" fill="#6a2814"/><circle cx="434.3" cy="255.5" r="0.7" fill="#6a2814"/><circle cx="442.0" cy="260.4" r="0.7" fill="#dc8666"/><path d="M388.8,182.9 L389.4,170.8 L383.2,171.2 L385.4,183.1Z" fill="#aa4d30"/><circle cx="384.2" cy="171.1" r="2.2" fill="#aa4d30"/><circle cx="386.3" cy="170.3" r="2.4" fill="#aa4d30"/><circle cx="388.4" cy="170.8" r="2.2" fill="#aa4d30"/><circle cx="386.2" cy="172.0" r="0.9" fill="#c6674a"/><circle cx="386.2" cy="179.5" r="1.3" fill="#c6674a"/><circle cx="385.7" cy="179.7" r="1.0" fill="#c6674a"/><circle cx="386.8" cy="181.0" r="1.1" fill="#c6674a"/><circle cx="385.4" cy="174.8" r="0.9" fill="#c6674a"/><circle cx="387.2" cy="175.8" r="0.6" fill="#6a2814"/><circle cx="387.9" cy="175.0" r="0.5" fill="#6a2814"/><circle cx="386.8" cy="178.0" r="0.7" fill="#6a2814"/><circle cx="387.5" cy="171.4" r="0.7" fill="#dc8666"/><path d="M343.5,241.0 L327.2,242.8 L328.8,249.4 L344.1,243.5Z" fill="#965eb2"/><circle cx="328.6" cy="248.6" r="2.5" fill="#965eb2"/><circle cx="327.3" cy="246.3" r="2.7" fill="#965eb2"/><circle cx="327.4" cy="243.6" r="2.5" fill="#965eb2"/><circle cx="329.4" cy="245.5" r="1.1" fill="#ad80c8"/><circle cx="336.0" cy="243.2" r="1.2" fill="#ad80c8"/><circle cx="338.3" cy="244.7" r="0.9" fill="#ad80c8"/><circle cx="336.9" cy="242.7" r="0.9" fill="#ad80c8"/><circle cx="333.2" cy="244.3" r="1.3" fill="#ad80c8"/><circle cx="339.0" cy="242.8" r="0.6" fill="#4e2c66"/><circle cx="339.3" cy="243.0" r="0.8" fill="#4e2c66"/><circle cx="333.6" cy="246.2" r="0.8" fill="#4e2c66"/><circle cx="328.2" cy="244.8" r="0.7" fill="#c9a0dc"/><path d="M425.5,198.3 L435.0,190.9 L430.6,186.5 L423.1,195.9Z" fill="#aa4d30"/><circle cx="431.3" cy="187.2" r="2.2" fill="#aa4d30"/><circle cx="433.3" cy="188.2" r="2.4" fill="#aa4d30"/><circle cx="434.3" cy="190.2" r="2.2" fill="#aa4d30"/><circle cx="428.4" cy="193.7" r="1.2" fill="#c6674a"/><circle cx="426.9" cy="194.1" r="1.0" fill="#c6674a"/><circle cx="425.0" cy="194.7" r="1.2" fill="#c6674a"/><circle cx="429.1" cy="194.0" r="0.8" fill="#c6674a"/><circle cx="426.7" cy="193.3" r="1.3" fill="#c6674a"/><circle cx="432.3" cy="191.1" r="0.7" fill="#6a2814"/><circle cx="426.5" cy="194.6" r="0.6" fill="#6a2814"/><circle cx="426.3" cy="195.4" r="0.6" fill="#6a2814"/><circle cx="433.3" cy="189.9" r="0.7" fill="#dc8666"/><path d="M379.6,277.3 L376.0,288.8 L382.0,290.0 L382.9,277.9Z" fill="#aa4d30"/><circle cx="381.1" cy="289.8" r="2.2" fill="#aa4d30"/><circle cx="378.9" cy="290.1" r="2.4" fill="#aa4d30"/><circle cx="376.9" cy="289.0" r="2.2" fill="#aa4d30"/><circle cx="380.8" cy="279.9" r="1.3" fill="#c6674a"/><circle cx="379.3" cy="288.8" r="0.9" fill="#c6674a"/><circle cx="381.0" cy="287.2" r="1.1" fill="#c6674a"/><circle cx="379.6" cy="279.4" r="1.1" fill="#c6674a"/><circle cx="380.9" cy="283.6" r="1.1" fill="#c6674a"/><circle cx="379.3" cy="289.2" r="0.6" fill="#6a2814"/><circle cx="378.6" cy="284.6" r="0.6" fill="#6a2814"/><circle cx="378.3" cy="285.7" r="0.6" fill="#6a2814"/><circle cx="377.9" cy="288.7" r="0.7" fill="#dc8666"/><path d="M372.9,186.4 L369.4,174.9 L363.7,177.3 L369.8,187.8Z" fill="#aa4d30"/><circle cx="364.7" cy="176.9" r="2.2" fill="#aa4d30"/><circle cx="366.3" cy="175.5" r="2.4" fill="#aa4d30"/><circle cx="368.5" cy="175.3" r="2.2" fill="#aa4d30"/><circle cx="367.5" cy="177.9" r="0.9" fill="#c6674a"/><circle cx="371.7" cy="185.0" r="1.0" fill="#c6674a"/><circle cx="370.3" cy="181.1" r="1.1" fill="#c6674a"/><circle cx="368.0" cy="181.3" r="1.2" fill="#c6674a"/><circle cx="369.7" cy="183.5" r="1.2" fill="#c6674a"/><circle cx="367.0" cy="180.0" r="0.6" fill="#6a2814"/><circle cx="368.4" cy="178.5" r="0.5" fill="#6a2814"/><circle cx="365.3" cy="176.7" r="0.6" fill="#6a2814"/><circle cx="367.9" cy="176.1" r="0.7" fill="#dc8666"/><path d="M419.0,268.5 L427.5,282.4 L432.8,278.1 L421.1,266.9Z" fill="#965eb2"/><circle cx="432.2" cy="278.6" r="2.5" fill="#965eb2"/><circle cx="430.6" cy="280.8" r="2.7" fill="#965eb2"/><circle cx="428.1" cy="281.9" r="2.5" fill="#965eb2"/><circle cx="422.0" cy="269.9" r="1.1" fill="#ad80c8"/><circle cx="430.0" cy="277.7" r="1.1" fill="#ad80c8"/><circle cx="421.9" cy="270.3" r="0.9" fill="#ad80c8"/><circle cx="425.4" cy="272.1" r="1.2" fill="#ad80c8"/><circle cx="421.7" cy="270.7" r="1.0" fill="#ad80c8"/><circle cx="426.5" cy="276.4" r="0.6" fill="#4e2c66"/><circle cx="427.9" cy="280.0" r="0.6" fill="#4e2c66"/><circle cx="424.0" cy="274.2" r="0.5" fill="#4e2c66"/><circle cx="428.9" cy="280.6" r="0.7" fill="#c9a0dc"/><path d="M433.7,211.8 L449.1,206.8 L446.2,200.7 L432.6,209.4Z" fill="#965eb2"/><circle cx="446.5" cy="201.4" r="2.5" fill="#965eb2"/><circle cx="448.3" cy="203.5" r="2.7" fill="#965eb2"/><circle cx="448.7" cy="206.1" r="2.5" fill="#965eb2"/><circle cx="439.9" cy="207.1" r="1.3" fill="#ad80c8"/><circle cx="436.4" cy="209.5" r="1.2" fill="#ad80c8"/><circle cx="443.2" cy="203.6" r="1.3" fill="#ad80c8"/><circle cx="439.1" cy="208.9" r="1.1" fill="#ad80c8"/><circle cx="440.5" cy="208.3" r="1.1" fill="#ad80c8"/><circle cx="440.2" cy="207.9" r="0.7" fill="#4e2c66"/><circle cx="444.5" cy="205.7" r="0.7" fill="#4e2c66"/><circle cx="437.9" cy="208.3" r="0.5" fill="#4e2c66"/><circle cx="447.7" cy="205.1" r="0.7" fill="#c9a0dc"/><path d="M343.1,227.8 L331.3,226.1 L331.1,232.3 L343.0,231.2Z" fill="#aa4d30"/><circle cx="331.1" cy="231.3" r="2.2" fill="#aa4d30"/><circle cx="330.5" cy="229.2" r="2.4" fill="#aa4d30"/><circle cx="331.2" cy="227.1" r="2.2" fill="#aa4d30"/><circle cx="333.4" cy="228.2" r="1.2" fill="#c6674a"/><circle cx="341.4" cy="229.4" r="1.0" fill="#c6674a"/><circle cx="340.6" cy="230.3" r="1.3" fill="#c6674a"/><circle cx="332.7" cy="230.3" r="1.2" fill="#c6674a"/><circle cx="334.9" cy="229.7" r="1.1" fill="#c6674a"/><circle cx="338.5" cy="230.0" r="0.5" fill="#6a2814"/><circle cx="334.4" cy="229.0" r="0.7" fill="#6a2814"/><circle cx="335.9" cy="229.5" r="0.6" fill="#6a2814"/><circle cx="331.7" cy="228.0" r="0.7" fill="#dc8666"/><path d="M406.6,275.1 L409.8,286.5 L415.5,284.2 L409.8,273.8Z" fill="#aa4d30"/><circle cx="414.6" cy="284.6" r="2.2" fill="#aa4d30"/><circle cx="412.9" cy="286.0" r="2.4" fill="#aa4d30"/><circle cx="410.7" cy="286.2" r="2.2" fill="#aa4d30"/><circle cx="412.1" cy="282.6" r="1.1" fill="#c6674a"/><circle cx="411.9" cy="282.9" r="1.1" fill="#c6674a"/><circle cx="409.5" cy="275.9" r="1.2" fill="#c6674a"/><circle cx="410.4" cy="276.5" r="0.8" fill="#c6674a"/><circle cx="413.2" cy="282.5" r="1.0" fill="#c6674a"/><circle cx="409.8" cy="280.8" r="0.6" fill="#6a2814"/><circle cx="412.3" cy="280.6" r="0.7" fill="#6a2814"/><circle cx="411.5" cy="283.5" r="0.8" fill="#6a2814"/><circle cx="411.4" cy="285.4" r="0.7" fill="#dc8666"/><path d="M437.3,227.5 L449.2,227.6 L448.5,221.4 L436.9,224.1Z" fill="#aa4d30"/><circle cx="448.6" cy="222.4" r="2.2" fill="#aa4d30"/><circle cx="449.5" cy="224.4" r="2.4" fill="#aa4d30"/><circle cx="449.1" cy="226.6" r="2.2" fill="#aa4d30"/><circle cx="444.8" cy="225.7" r="1.2" fill="#c6674a"/><circle cx="444.6" cy="223.2" r="1.2" fill="#c6674a"/><circle cx="448.6" cy="223.2" r="0.8" fill="#c6674a"/><circle cx="441.7" cy="224.0" r="1.0" fill="#c6674a"/><circle cx="439.1" cy="224.8" r="0.8" fill="#c6674a"/><circle cx="443.4" cy="224.5" r="0.7" fill="#6a2814"/><circle cx="443.0" cy="224.2" r="0.8" fill="#6a2814"/><circle cx="447.9" cy="225.3" r="0.6" fill="#6a2814"/><circle cx="448.5" cy="225.7" r="0.7" fill="#dc8666"/><path d="M400.5,184.8 L404.1,173.5 L398.0,172.4 L397.2,184.2Z" fill="#aa4d30"/><circle cx="399.0" cy="172.5" r="2.2" fill="#aa4d30"/><circle cx="401.2" cy="172.2" r="2.4" fill="#aa4d30"/><circle cx="403.1" cy="173.3" r="2.2" fill="#aa4d30"/><circle cx="399.7" cy="179.1" r="1.0" fill="#c6674a"/><circle cx="399.0" cy="183.1" r="1.2" fill="#c6674a"/><circle cx="401.8" cy="176.4" r="1.1" fill="#c6674a"/><circle cx="402.0" cy="175.7" r="1.3" fill="#c6674a"/><circle cx="400.3" cy="175.0" r="1.1" fill="#c6674a"/><circle cx="401.7" cy="176.3" r="0.7" fill="#6a2814"/><circle cx="399.2" cy="177.9" r="0.6" fill="#6a2814"/><circle cx="400.2" cy="180.0" r="0.7" fill="#6a2814"/><circle cx="402.1" cy="173.6" r="0.7" fill="#dc8666"/><path d="M413.5,189.9 L422.8,176.8 L416.8,173.6 L411.2,188.7Z" fill="#965eb2"/><circle cx="417.5" cy="174.0" r="2.5" fill="#965eb2"/><circle cx="420.2" cy="174.6" r="2.7" fill="#965eb2"/><circle cx="422.1" cy="176.4" r="2.5" fill="#965eb2"/><circle cx="414.5" cy="185.5" r="1.2" fill="#ad80c8"/><circle cx="414.5" cy="182.7" r="1.1" fill="#ad80c8"/><circle cx="414.6" cy="182.8" r="0.9" fill="#ad80c8"/><circle cx="412.5" cy="187.4" r="1.0" fill="#ad80c8"/><circle cx="412.8" cy="186.0" r="1.1" fill="#ad80c8"/><circle cx="420.8" cy="176.3" r="0.6" fill="#4e2c66"/><circle cx="417.9" cy="175.3" r="0.5" fill="#4e2c66"/><circle cx="413.1" cy="186.0" r="0.7" fill="#4e2c66"/><circle cx="420.7" cy="176.2" r="0.7" fill="#c9a0dc"/><path d="M435.5,243.4 L446.5,247.5 L448.0,241.5 L436.3,240.1Z" fill="#aa4d30"/><circle cx="447.8" cy="242.5" r="2.2" fill="#aa4d30"/><circle cx="448.0" cy="244.7" r="2.4" fill="#aa4d30"/><circle cx="446.8" cy="246.5" r="2.2" fill="#aa4d30"/><circle cx="444.8" cy="243.8" r="1.2" fill="#c6674a"/><circle cx="441.3" cy="244.5" r="1.1" fill="#c6674a"/><circle cx="442.8" cy="242.2" r="1.0" fill="#c6674a"/><circle cx="441.3" cy="244.2" r="0.9" fill="#c6674a"/><circle cx="439.8" cy="243.7" r="0.8" fill="#c6674a"/><circle cx="443.2" cy="242.6" r="0.7" fill="#6a2814"/><circle cx="443.9" cy="242.4" r="0.7" fill="#6a2814"/><circle cx="442.0" cy="242.7" r="0.8" fill="#6a2814"/><circle cx="446.5" cy="245.6" r="0.7" fill="#dc8666"/><path d="M391.9,277.6 L391.3,289.4 L397.5,289.0 L395.3,277.4Z" fill="#aa4d30"/><circle cx="396.5" cy="289.0" r="2.2" fill="#aa4d30"/><circle cx="394.5" cy="289.9" r="2.4" fill="#aa4d30"/><circle cx="392.3" cy="289.3" r="2.2" fill="#aa4d30"/><circle cx="395.0" cy="286.8" r="1.1" fill="#c6674a"/><circle cx="393.7" cy="280.0" r="0.8" fill="#c6674a"/><circle cx="392.6" cy="285.5" r="1.1" fill="#c6674a"/><circle cx="393.7" cy="279.1" r="1.0" fill="#c6674a"/><circle cx="395.2" cy="283.2" r="0.9" fill="#c6674a"/><circle cx="395.3" cy="284.0" r="0.7" fill="#6a2814"/><circle cx="394.5" cy="282.1" r="0.5" fill="#6a2814"/><circle cx="392.8" cy="282.7" r="0.6" fill="#6a2814"/><circle cx="393.2" cy="288.8" r="0.7" fill="#dc8666"/><path d="M366.9,271.2 L360.2,280.8 L365.7,283.7 L370.0,272.8Z" fill="#aa4d30"/><circle cx="364.8" cy="283.3" r="2.2" fill="#aa4d30"/><circle cx="362.6" cy="282.9" r="2.4" fill="#aa4d30"/><circle cx="361.1" cy="281.3" r="2.2" fill="#aa4d30"/><circle cx="367.8" cy="274.1" r="1.3" fill="#c6674a"/><circle cx="367.8" cy="274.0" r="0.9" fill="#c6674a"/><circle cx="364.7" cy="279.4" r="0.8" fill="#c6674a"/><circle cx="364.3" cy="281.3" r="1.1" fill="#c6674a"/><circle cx="364.6" cy="276.6" r="0.8" fill="#c6674a"/><circle cx="366.9" cy="276.2" r="0.6" fill="#6a2814"/><circle cx="363.7" cy="280.8" r="0.6" fill="#6a2814"/><circle cx="364.2" cy="277.7" r="0.7" fill="#6a2814"/><circle cx="362.2" cy="281.3" r="0.7" fill="#dc8666"/><path d="M355.7,262.0 L342.9,271.4 L347.6,276.3 L357.5,263.9Z" fill="#965eb2"/><circle cx="347.1" cy="275.7" r="2.5" fill="#965eb2"/><circle cx="344.8" cy="274.3" r="2.7" fill="#965eb2"/><circle cx="343.5" cy="272.0" r="2.5" fill="#965eb2"/><circle cx="350.5" cy="268.1" r="1.1" fill="#ad80c8"/><circle cx="351.5" cy="268.2" r="0.9" fill="#ad80c8"/><circle cx="350.2" cy="267.5" r="1.0" fill="#ad80c8"/><circle cx="351.6" cy="267.4" r="1.1" fill="#ad80c8"/><circle cx="353.8" cy="265.9" r="1.2" fill="#ad80c8"/><circle cx="354.6" cy="266.1" r="0.7" fill="#4e2c66"/><circle cx="347.3" cy="274.2" r="0.5" fill="#4e2c66"/><circle cx="349.2" cy="271.1" r="0.7" fill="#4e2c66"/><circle cx="344.8" cy="272.6" r="0.7" fill="#c9a0dc"/><path d="M346.6,215.2 L335.9,210.4 L334.1,216.3 L345.6,218.5Z" fill="#aa4d30"/><circle cx="334.4" cy="215.4" r="2.2" fill="#aa4d30"/><circle cx="334.3" cy="213.2" r="2.4" fill="#aa4d30"/><circle cx="335.6" cy="211.4" r="2.2" fill="#aa4d30"/><circle cx="344.6" cy="216.5" r="0.9" fill="#c6674a"/><circle cx="341.8" cy="214.9" r="1.1" fill="#c6674a"/><circle cx="336.9" cy="212.5" r="1.1" fill="#c6674a"/><circle cx="336.1" cy="215.1" r="1.0" fill="#c6674a"/><circle cx="341.9" cy="215.1" r="0.9" fill="#c6674a"/><circle cx="335.9" cy="214.1" r="0.7" fill="#6a2814"/><circle cx="336.0" cy="212.0" r="0.6" fill="#6a2814"/><circle cx="336.8" cy="212.1" r="0.5" fill="#6a2814"/><circle cx="335.8" cy="212.4" r="0.7" fill="#dc8666"/><path d="M362.5,193.7 L356.4,183.8 L351.5,187.7 L359.9,195.8Z" fill="#aa4d30"/><circle cx="352.3" cy="187.1" r="2.2" fill="#aa4d30"/><circle cx="353.5" cy="185.2" r="2.4" fill="#aa4d30"/><circle cx="355.6" cy="184.4" r="2.2" fill="#aa4d30"/><circle cx="356.3" cy="187.2" r="1.0" fill="#c6674a"/><circle cx="357.9" cy="192.2" r="1.0" fill="#c6674a"/><circle cx="354.1" cy="186.6" r="0.9" fill="#c6674a"/><circle cx="356.3" cy="189.0" r="1.1" fill="#c6674a"/><circle cx="356.9" cy="190.6" r="0.8" fill="#c6674a"/><circle cx="355.4" cy="186.7" r="0.6" fill="#6a2814"/><circle cx="357.0" cy="189.2" r="0.7" fill="#6a2814"/><circle cx="355.3" cy="185.8" r="0.6" fill="#6a2814"/><circle cx="355.2" cy="185.4" r="0.7" fill="#dc8666"/><path d="M427.1,258.8 L438.6,269.6 L442.6,264.1 L428.6,256.7Z" fill="#965eb2"/><circle cx="442.1" cy="264.8" r="2.5" fill="#965eb2"/><circle cx="441.1" cy="267.3" r="2.7" fill="#965eb2"/><circle cx="439.1" cy="269.0" r="2.5" fill="#965eb2"/><circle cx="432.8" cy="261.7" r="0.9" fill="#ad80c8"/><circle cx="441.0" cy="264.6" r="1.0" fill="#ad80c8"/><circle cx="432.2" cy="261.0" r="0.8" fill="#ad80c8"/><circle cx="430.9" cy="261.6" r="1.2" fill="#ad80c8"/><circle cx="431.8" cy="260.4" r="0.8" fill="#ad80c8"/><circle cx="432.1" cy="259.9" r="0.8" fill="#4e2c66"/><circle cx="434.0" cy="261.3" r="0.5" fill="#4e2c66"/><circle cx="430.9" cy="261.3" r="0.7" fill="#4e2c66"/><circle cx="439.5" cy="267.6" r="0.7" fill="#c9a0dc"/><path d="M353.1,203.9 L341.5,193.5 L337.7,199.1 L351.7,206.1Z" fill="#965eb2"/><circle cx="338.2" cy="198.5" r="2.5" fill="#965eb2"/><circle cx="339.0" cy="195.9" r="2.7" fill="#965eb2"/><circle cx="341.1" cy="194.2" r="2.5" fill="#965eb2"/><circle cx="341.4" cy="195.7" r="1.2" fill="#ad80c8"/><circle cx="347.7" cy="202.9" r="0.9" fill="#ad80c8"/><circle cx="350.0" cy="204.3" r="1.2" fill="#ad80c8"/><circle cx="344.5" cy="201.7" r="1.0" fill="#ad80c8"/><circle cx="342.2" cy="196.2" r="1.2" fill="#ad80c8"/><circle cx="343.2" cy="197.0" r="0.7" fill="#4e2c66"/><circle cx="346.0" cy="200.4" r="0.6" fill="#4e2c66"/><circle cx="349.2" cy="203.5" r="0.6" fill="#4e2c66"/><circle cx="340.7" cy="195.6" r="0.7" fill="#c9a0dc"/><path d="M349.1,250.1 L338.3,254.1 L341.2,259.6 L350.6,253.2Z" fill="#aa4d30"/><circle cx="340.7" cy="258.7" r="2.2" fill="#aa4d30"/><circle cx="339.1" cy="257.2" r="2.4" fill="#aa4d30"/><circle cx="338.8" cy="255.0" r="2.2" fill="#aa4d30"/><circle cx="348.3" cy="253.8" r="0.9" fill="#c6674a"/><circle cx="344.8" cy="252.6" r="1.0" fill="#c6674a"/><circle cx="340.8" cy="255.2" r="1.1" fill="#c6674a"/><circle cx="346.1" cy="254.0" r="1.0" fill="#c6674a"/><circle cx="342.5" cy="254.0" r="1.2" fill="#c6674a"/><circle cx="345.9" cy="254.8" r="0.5" fill="#6a2814"/><circle cx="343.5" cy="255.9" r="0.5" fill="#6a2814"/><circle cx="345.7" cy="254.6" r="0.6" fill="#6a2814"/><circle cx="339.7" cy="255.5" r="0.7" fill="#dc8666"/><path d="M382.2,186.4 L381.2,175.1 L375.1,176.5 L378.9,187.1Z" fill="#aa4d30"/><circle cx="376.1" cy="176.3" r="2.2" fill="#aa4d30"/><circle cx="378.0" cy="175.1" r="2.4" fill="#aa4d30"/><circle cx="380.2" cy="175.3" r="2.2" fill="#aa4d30"/><circle cx="379.2" cy="179.0" r="0.9" fill="#c6674a"/><circle cx="377.6" cy="178.7" r="1.3" fill="#c6674a"/><circle cx="380.3" cy="184.4" r="1.2" fill="#c6674a"/><circle cx="378.7" cy="178.4" r="1.2" fill="#c6674a"/><circle cx="379.6" cy="179.3" r="0.8" fill="#c6674a"/><circle cx="379.6" cy="182.9" r="0.7" fill="#6a2814"/><circle cx="380.5" cy="183.6" r="0.6" fill="#6a2814"/><circle cx="379.2" cy="180.4" r="0.8" fill="#6a2814"/><circle cx="379.4" cy="176.0" r="0.7" fill="#dc8666"/><path d="M424.1,201.3 L436.5,192.7 L431.9,187.7 L422.3,199.4Z" fill="#965eb2"/><circle cx="432.4" cy="188.3" r="2.5" fill="#965eb2"/><circle cx="434.7" cy="189.7" r="2.7" fill="#965eb2"/><circle cx="436.0" cy="192.1" r="2.5" fill="#965eb2"/><circle cx="427.4" cy="196.7" r="1.1" fill="#ad80c8"/><circle cx="430.3" cy="192.8" r="0.9" fill="#ad80c8"/><circle cx="429.2" cy="195.3" r="1.1" fill="#ad80c8"/><circle cx="425.5" cy="198.0" r="1.1" fill="#ad80c8"/><circle cx="425.5" cy="196.8" r="1.3" fill="#ad80c8"/><circle cx="425.6" cy="198.2" r="0.6" fill="#4e2c66"/><circle cx="425.3" cy="197.7" r="0.5" fill="#4e2c66"/><circle cx="429.7" cy="196.0" r="0.5" fill="#4e2c66"/><circle cx="434.6" cy="191.4" r="0.7" fill="#c9a0dc"/><path d="M347.2,237.9 L332.5,238.7 L333.8,245.3 L347.7,240.5Z" fill="#965eb2"/><circle cx="333.7" cy="244.5" r="2.5" fill="#965eb2"/><circle cx="332.5" cy="242.1" r="2.7" fill="#965eb2"/><circle cx="332.7" cy="239.4" r="2.5" fill="#965eb2"/><circle cx="341.4" cy="239.8" r="1.1" fill="#ad80c8"/><circle cx="345.9" cy="240.1" r="0.9" fill="#ad80c8"/><circle cx="334.6" cy="242.0" r="0.9" fill="#ad80c8"/><circle cx="339.9" cy="240.7" r="0.9" fill="#ad80c8"/><circle cx="337.3" cy="240.3" r="1.0" fill="#ad80c8"/><circle cx="338.3" cy="240.1" r="0.8" fill="#4e2c66"/><circle cx="337.9" cy="242.6" r="0.7" fill="#4e2c66"/><circle cx="337.2" cy="241.8" r="0.7" fill="#4e2c66"/><circle cx="333.4" cy="240.7" r="0.7" fill="#c9a0dc"/><path d="M430.9,215.8 L441.3,213.0 L438.9,207.2 L429.6,212.6Z" fill="#aa4d30"/><circle cx="439.3" cy="208.2" r="2.2" fill="#aa4d30"/><circle cx="440.8" cy="209.8" r="2.4" fill="#aa4d30"/><circle cx="440.9" cy="212.0" r="2.2" fill="#aa4d30"/><circle cx="434.7" cy="212.8" r="1.1" fill="#c6674a"/><circle cx="437.8" cy="212.8" r="1.2" fill="#c6674a"/><circle cx="437.8" cy="211.9" r="0.9" fill="#c6674a"/><circle cx="436.9" cy="211.9" r="0.8" fill="#c6674a"/><circle cx="437.5" cy="210.0" r="1.0" fill="#c6674a"/><circle cx="436.6" cy="212.3" r="0.7" fill="#6a2814"/><circle cx="436.4" cy="213.1" r="0.6" fill="#6a2814"/><circle cx="437.3" cy="212.9" r="0.6" fill="#6a2814"/><circle cx="440.1" cy="211.4" r="0.7" fill="#dc8666"/><path d="M398.8,273.0 L399.9,283.6 L406.0,282.2 L402.1,272.2Z" fill="#aa4d30"/><circle cx="405.0" cy="282.4" r="2.2" fill="#aa4d30"/><circle cx="403.1" cy="283.6" r="2.4" fill="#aa4d30"/><circle cx="400.9" cy="283.4" r="2.2" fill="#aa4d30"/><circle cx="400.6" cy="280.7" r="0.8" fill="#c6674a"/><circle cx="401.9" cy="281.0" r="1.1" fill="#c6674a"/><circle cx="401.1" cy="281.3" r="0.9" fill="#c6674a"/><circle cx="401.4" cy="278.2" r="1.1" fill="#c6674a"/><circle cx="401.6" cy="282.8" r="1.2" fill="#c6674a"/><circle cx="401.3" cy="275.2" r="0.8" fill="#6a2814"/><circle cx="401.9" cy="282.7" r="0.6" fill="#6a2814"/><circle cx="402.4" cy="281.0" r="0.7" fill="#6a2814"/><circle cx="401.7" cy="282.7" r="0.7" fill="#dc8666"/><path d="M433.1,231.4 L443.6,232.6 L443.5,226.4 L433.0,228.0Z" fill="#aa4d30"/><circle cx="443.5" cy="227.4" r="2.2" fill="#aa4d30"/><circle cx="444.2" cy="229.5" r="2.4" fill="#aa4d30"/><circle cx="443.6" cy="231.6" r="2.2" fill="#aa4d30"/><circle cx="440.2" cy="230.9" r="1.2" fill="#c6674a"/><circle cx="443.3" cy="229.5" r="1.0" fill="#c6674a"/><circle cx="440.3" cy="229.8" r="0.8" fill="#c6674a"/><circle cx="443.1" cy="228.7" r="1.0" fill="#c6674a"/><circle cx="434.5" cy="228.9" r="1.3" fill="#c6674a"/><circle cx="437.5" cy="229.1" r="0.7" fill="#6a2814"/><circle cx="437.2" cy="230.1" r="0.7" fill="#6a2814"/><circle cx="442.7" cy="229.4" r="0.6" fill="#6a2814"/><circle cx="443.1" cy="230.7" r="0.7" fill="#dc8666"/><path d="M429.6,247.6 L442.1,254.8 L444.6,248.5 L430.6,245.2Z" fill="#965eb2"/><circle cx="444.3" cy="249.2" r="2.5" fill="#965eb2"/><circle cx="444.0" cy="251.9" r="2.7" fill="#965eb2"/><circle cx="442.4" cy="254.1" r="2.5" fill="#965eb2"/><circle cx="434.6" cy="247.8" r="0.8" fill="#ad80c8"/><circle cx="433.1" cy="246.7" r="1.0" fill="#ad80c8"/><circle cx="439.9" cy="252.3" r="1.0" fill="#ad80c8"/><circle cx="434.6" cy="247.6" r="1.1" fill="#ad80c8"/><circle cx="437.6" cy="248.0" r="1.1" fill="#ad80c8"/><circle cx="435.9" cy="247.7" r="0.7" fill="#4e2c66"/><circle cx="433.9" cy="247.8" r="0.7" fill="#4e2c66"/><circle cx="438.0" cy="250.8" r="0.6" fill="#4e2c66"/><circle cx="442.4" cy="252.6" r="0.7" fill="#c9a0dc"/><path d="M376.1,271.1 L371.7,280.7 L377.6,282.6 L379.3,272.1Z" fill="#aa4d30"/><circle cx="376.6" cy="282.3" r="2.2" fill="#aa4d30"/><circle cx="374.4" cy="282.3" r="2.4" fill="#aa4d30"/><circle cx="372.6" cy="281.0" r="2.2" fill="#aa4d30"/><circle cx="376.6" cy="281.7" r="1.2" fill="#c6674a"/><circle cx="377.8" cy="276.9" r="0.9" fill="#c6674a"/><circle cx="373.8" cy="281.3" r="1.2" fill="#c6674a"/><circle cx="377.1" cy="280.5" r="1.0" fill="#c6674a"/><circle cx="374.8" cy="276.4" r="1.3" fill="#c6674a"/><circle cx="375.5" cy="274.5" r="0.7" fill="#6a2814"/><circle cx="377.5" cy="276.4" r="0.6" fill="#6a2814"/><circle cx="376.0" cy="277.8" r="0.6" fill="#6a2814"/><circle cx="373.6" cy="280.8" r="0.7" fill="#dc8666"/><path d="M395.5,188.5 L398.9,174.6 L392.1,174.0 L392.9,188.3Z" fill="#965eb2"/><circle cx="392.9" cy="174.1" r="2.5" fill="#965eb2"/><circle cx="395.6" cy="173.6" r="2.7" fill="#965eb2"/><circle cx="398.1" cy="174.6" r="2.5" fill="#965eb2"/><circle cx="395.3" cy="175.0" r="1.0" fill="#ad80c8"/><circle cx="394.2" cy="177.0" r="1.0" fill="#ad80c8"/><circle cx="393.8" cy="185.6" r="1.3" fill="#ad80c8"/><circle cx="395.1" cy="179.1" r="1.1" fill="#ad80c8"/><circle cx="395.2" cy="178.5" r="1.0" fill="#ad80c8"/><circle cx="393.5" cy="183.8" r="0.5" fill="#4e2c66"/><circle cx="393.5" cy="180.9" r="0.7" fill="#4e2c66"/><circle cx="394.1" cy="181.7" r="0.6" fill="#4e2c66"/><circle cx="396.6" cy="174.9" r="0.7" fill="#c9a0dc"/><path d="M415.5,265.1 L420.9,274.1 L425.7,270.2 L418.1,263.0Z" fill="#aa4d30"/><circle cx="424.9" cy="270.9" r="2.2" fill="#aa4d30"/><circle cx="423.7" cy="272.7" r="2.4" fill="#aa4d30"/><circle cx="421.6" cy="273.5" r="2.2" fill="#aa4d30"/><circle cx="421.1" cy="267.8" r="1.2" fill="#c6674a"/><circle cx="421.4" cy="267.5" r="0.8" fill="#c6674a"/><circle cx="422.4" cy="271.6" r="0.9" fill="#c6674a"/><circle cx="423.0" cy="269.0" r="1.2" fill="#c6674a"/><circle cx="422.4" cy="272.1" r="0.8" fill="#c6674a"/><circle cx="419.5" cy="269.1" r="0.7" fill="#6a2814"/><circle cx="419.7" cy="266.6" r="0.5" fill="#6a2814"/><circle cx="421.6" cy="268.5" r="0.6" fill="#6a2814"/><circle cx="422.0" cy="272.5" r="0.7" fill="#dc8666"/><path d="M410.9,193.7 L416.8,185.0 L411.3,182.2 L407.8,192.1Z" fill="#aa4d30"/><circle cx="412.2" cy="182.7" r="2.2" fill="#aa4d30"/><circle cx="414.3" cy="183.0" r="2.4" fill="#aa4d30"/><circle cx="415.9" cy="184.6" r="2.2" fill="#aa4d30"/><circle cx="415.1" cy="185.2" r="1.0" fill="#c6674a"/><circle cx="411.8" cy="184.8" r="1.3" fill="#c6674a"/><circle cx="413.4" cy="184.7" r="1.2" fill="#c6674a"/><circle cx="412.4" cy="190.1" r="1.0" fill="#c6674a"/><circle cx="415.0" cy="184.9" r="1.3" fill="#c6674a"/><circle cx="411.7" cy="185.0" r="0.6" fill="#6a2814"/><circle cx="413.9" cy="186.8" r="0.7" fill="#6a2814"/><circle cx="410.1" cy="190.6" r="0.6" fill="#6a2814"/><circle cx="414.9" cy="184.6" r="0.7" fill="#dc8666"/><path d="M373.1,193.0 L369.8,183.3 L364.3,186.1 L370.1,194.5Z" fill="#aa4d30"/><circle cx="365.1" cy="185.7" r="2.2" fill="#aa4d30"/><circle cx="366.7" cy="184.1" r="2.4" fill="#aa4d30"/><circle cx="368.9" cy="183.8" r="2.2" fill="#aa4d30"/><circle cx="369.7" cy="191.8" r="1.1" fill="#c6674a"/><circle cx="368.9" cy="190.2" r="1.0" fill="#c6674a"/><circle cx="367.6" cy="185.0" r="1.2" fill="#c6674a"/><circle cx="365.5" cy="186.2" r="1.2" fill="#c6674a"/><circle cx="370.0" cy="192.5" r="1.2" fill="#c6674a"/><circle cx="368.3" cy="186.3" r="0.6" fill="#6a2814"/><circle cx="367.8" cy="186.9" r="0.6" fill="#6a2814"/><circle cx="368.9" cy="190.8" r="0.5" fill="#6a2814"/><circle cx="368.3" cy="184.6" r="0.7" fill="#dc8666"/><path d="M361.6,260.6 L353.9,267.2 L358.5,271.3 L364.1,262.9Z" fill="#aa4d30"/><circle cx="357.8" cy="270.7" r="2.2" fill="#aa4d30"/><circle cx="355.7" cy="269.8" r="2.4" fill="#aa4d30"/><circle cx="354.6" cy="267.9" r="2.2" fill="#aa4d30"/><circle cx="355.1" cy="267.7" r="1.0" fill="#c6674a"/><circle cx="360.3" cy="265.8" r="1.2" fill="#c6674a"/><circle cx="360.1" cy="266.6" r="1.2" fill="#c6674a"/><circle cx="358.1" cy="270.1" r="1.0" fill="#c6674a"/><circle cx="360.6" cy="263.7" r="1.0" fill="#c6674a"/><circle cx="360.4" cy="265.4" r="0.7" fill="#6a2814"/><circle cx="358.9" cy="266.3" r="0.7" fill="#6a2814"/><circle cx="358.0" cy="265.2" r="0.6" fill="#6a2814"/><circle cx="355.6" cy="268.1" r="0.7" fill="#dc8666"/><path d="M349.4,224.8 L339.6,222.3 L338.9,228.5 L349.1,228.1Z" fill="#aa4d30"/><circle cx="339.0" cy="227.5" r="2.2" fill="#aa4d30"/><circle cx="338.6" cy="225.3" r="2.4" fill="#aa4d30"/><circle cx="339.5" cy="223.3" r="2.2" fill="#aa4d30"/><circle cx="341.3" cy="223.9" r="1.1" fill="#c6674a"/><circle cx="343.1" cy="224.7" r="1.2" fill="#c6674a"/><circle cx="346.5" cy="226.4" r="0.9" fill="#c6674a"/><circle cx="348.1" cy="225.8" r="1.0" fill="#c6674a"/><circle cx="345.8" cy="227.5" r="0.8" fill="#c6674a"/><circle cx="341.8" cy="226.1" r="0.6" fill="#6a2814"/><circle cx="342.0" cy="224.3" r="0.7" fill="#6a2814"/><circle cx="345.6" cy="224.8" r="0.6" fill="#6a2814"/><circle cx="339.9" cy="224.3" r="0.7" fill="#dc8666"/><path d="M355.2,212.7 L347.2,207.4 L344.6,213.0 L353.8,215.7Z" fill="#aa4d30"/><circle cx="345.0" cy="212.1" r="2.2" fill="#aa4d30"/><circle cx="345.3" cy="209.9" r="2.4" fill="#aa4d30"/><circle cx="346.8" cy="208.3" r="2.2" fill="#aa4d30"/><circle cx="349.4" cy="211.2" r="0.9" fill="#c6674a"/><circle cx="347.0" cy="210.2" r="1.2" fill="#c6674a"/><circle cx="353.0" cy="212.5" r="0.9" fill="#c6674a"/><circle cx="349.2" cy="210.8" r="1.0" fill="#c6674a"/><circle cx="351.4" cy="213.3" r="1.3" fill="#c6674a"/><circle cx="348.2" cy="211.4" r="0.7" fill="#6a2814"/><circle cx="348.0" cy="212.0" r="0.5" fill="#6a2814"/><circle cx="352.1" cy="212.9" r="0.7" fill="#6a2814"/><circle cx="346.9" cy="209.3" r="0.7" fill="#dc8666"/><path d="M363.6,201.9 L357.8,194.3 L353.5,198.7 L361.2,204.3Z" fill="#aa4d30"/><circle cx="354.2" cy="197.9" r="2.2" fill="#aa4d30"/><circle cx="355.2" cy="196.0" r="2.4" fill="#aa4d30"/><circle cx="357.1" cy="195.0" r="2.2" fill="#aa4d30"/><circle cx="356.2" cy="196.2" r="1.2" fill="#c6674a"/><circle cx="355.7" cy="196.5" r="1.0" fill="#c6674a"/><circle cx="358.5" cy="199.9" r="1.2" fill="#c6674a"/><circle cx="357.3" cy="200.0" r="1.3" fill="#c6674a"/><circle cx="359.1" cy="198.7" r="1.1" fill="#c6674a"/><circle cx="358.0" cy="198.5" r="0.5" fill="#6a2814"/><circle cx="360.7" cy="200.7" r="0.6" fill="#6a2814"/><circle cx="360.9" cy="200.5" r="0.7" fill="#6a2814"/><circle cx="356.9" cy="196.0" r="0.7" fill="#dc8666"/><path d="M356.2,248.3 L347.7,251.5 L350.7,256.9 L357.9,251.2Z" fill="#aa4d30"/><circle cx="350.2" cy="256.1" r="2.2" fill="#aa4d30"/><circle cx="348.6" cy="254.6" r="2.4" fill="#aa4d30"/><circle cx="348.2" cy="252.4" r="2.2" fill="#aa4d30"/><circle cx="351.1" cy="253.7" r="0.9" fill="#c6674a"/><circle cx="351.5" cy="254.2" r="1.1" fill="#c6674a"/><circle cx="351.8" cy="253.7" r="0.8" fill="#c6674a"/><circle cx="351.6" cy="251.7" r="1.1" fill="#c6674a"/><circle cx="349.9" cy="255.2" r="1.2" fill="#c6674a"/><circle cx="352.6" cy="252.0" r="0.6" fill="#6a2814"/><circle cx="354.0" cy="251.3" r="0.7" fill="#6a2814"/><circle cx="349.6" cy="253.6" r="0.6" fill="#6a2814"/><circle cx="349.0" cy="252.9" r="0.7" fill="#dc8666"/><path d="M419.3,206.0 L426.9,200.8 L422.7,196.3 L417.0,203.5Z" fill="#aa4d30"/><circle cx="423.3" cy="197.0" r="2.2" fill="#aa4d30"/><circle cx="425.3" cy="198.1" r="2.4" fill="#aa4d30"/><circle cx="426.2" cy="200.1" r="2.2" fill="#aa4d30"/><circle cx="423.0" cy="200.9" r="1.0" fill="#c6674a"/><circle cx="420.8" cy="203.1" r="1.0" fill="#c6674a"/><circle cx="418.4" cy="203.3" r="1.0" fill="#c6674a"/><circle cx="423.3" cy="200.7" r="1.0" fill="#c6674a"/><circle cx="423.2" cy="199.1" r="1.0" fill="#c6674a"/><circle cx="423.9" cy="200.2" r="0.6" fill="#6a2814"/><circle cx="423.0" cy="197.9" r="0.7" fill="#6a2814"/><circle cx="424.9" cy="200.2" r="0.6" fill="#6a2814"/><circle cx="425.2" cy="199.8" r="0.7" fill="#dc8666"/><path d="M387.1,268.8 L385.3,277.7 L391.5,278.0 L390.5,268.9Z" fill="#aa4d30"/><circle cx="390.5" cy="277.9" r="2.2" fill="#aa4d30"/><circle cx="388.4" cy="278.5" r="2.4" fill="#aa4d30"/><circle cx="386.3" cy="277.8" r="2.2" fill="#aa4d30"/><circle cx="388.4" cy="276.3" r="1.3" fill="#c6674a"/><circle cx="388.1" cy="272.4" r="1.1" fill="#c6674a"/><circle cx="389.1" cy="277.8" r="1.0" fill="#c6674a"/><circle cx="388.2" cy="270.7" r="0.8" fill="#c6674a"/><circle cx="389.9" cy="276.7" r="0.9" fill="#c6674a"/><circle cx="388.5" cy="277.5" r="0.7" fill="#6a2814"/><circle cx="389.4" cy="273.1" r="0.6" fill="#6a2814"/><circle cx="389.6" cy="277.8" r="0.8" fill="#6a2814"/><circle cx="387.3" cy="277.3" r="0.7" fill="#dc8666"/><path d="M419.7,254.5 L428.2,263.5 L432.3,258.0 L421.2,252.4Z" fill="#965eb2"/><circle cx="431.8" cy="258.7" r="2.5" fill="#965eb2"/><circle cx="430.8" cy="261.2" r="2.7" fill="#965eb2"/><circle cx="428.7" cy="262.8" r="2.5" fill="#965eb2"/><circle cx="428.7" cy="260.6" r="0.9" fill="#ad80c8"/><circle cx="426.9" cy="260.3" r="1.1" fill="#ad80c8"/><circle cx="423.2" cy="255.9" r="1.3" fill="#ad80c8"/><circle cx="427.4" cy="257.0" r="0.9" fill="#ad80c8"/><circle cx="428.0" cy="257.0" r="0.8" fill="#ad80c8"/><circle cx="425.8" cy="256.5" r="0.6" fill="#4e2c66"/><circle cx="422.9" cy="255.4" r="0.7" fill="#4e2c66"/><circle cx="424.8" cy="256.9" r="0.7" fill="#4e2c66"/><circle cx="429.1" cy="261.4" r="0.7" fill="#c9a0dc"/><path d="M404.1,265.8 L406.5,274.5 L412.1,272.0 L407.2,264.4Z" fill="#aa4d30"/><circle cx="411.2" cy="272.4" r="2.2" fill="#aa4d30"/><circle cx="409.6" cy="273.9" r="2.4" fill="#aa4d30"/><circle cx="407.4" cy="274.1" r="2.2" fill="#aa4d30"/><circle cx="408.3" cy="271.8" r="1.1" fill="#c6674a"/><circle cx="406.8" cy="270.5" r="0.8" fill="#c6674a"/><circle cx="405.5" cy="267.2" r="1.2" fill="#c6674a"/><circle cx="405.1" cy="266.4" r="1.1" fill="#c6674a"/><circle cx="408.1" cy="272.5" r="1.0" fill="#c6674a"/><circle cx="406.1" cy="267.8" r="0.7" fill="#6a2814"/><circle cx="408.4" cy="269.5" r="0.6" fill="#6a2814"/><circle cx="409.2" cy="272.8" r="0.6" fill="#6a2814"/><circle cx="408.0" cy="273.3" r="0.7" fill="#dc8666"/><path d="M387.9,194.4 L388.3,185.8 L382.1,186.5 L384.5,194.8Z" fill="#aa4d30"/><circle cx="383.1" cy="186.3" r="2.2" fill="#aa4d30"/><circle cx="385.1" cy="185.4" r="2.4" fill="#aa4d30"/><circle cx="387.3" cy="185.9" r="2.2" fill="#aa4d30"/><circle cx="387.3" cy="186.0" r="0.9" fill="#c6674a"/><circle cx="386.6" cy="192.2" r="1.0" fill="#c6674a"/><circle cx="386.3" cy="190.1" r="0.9" fill="#c6674a"/><circle cx="384.5" cy="189.3" r="0.9" fill="#c6674a"/><circle cx="385.4" cy="189.6" r="1.2" fill="#c6674a"/><circle cx="386.9" cy="191.8" r="0.6" fill="#6a2814"/><circle cx="384.6" cy="190.7" r="0.6" fill="#6a2814"/><circle cx="384.7" cy="186.3" r="0.8" fill="#6a2814"/><circle cx="386.5" cy="186.5" r="0.7" fill="#dc8666"/><path d="M372.5,262.0 L367.4,268.8 L372.9,271.7 L375.5,263.6Z" fill="#aa4d30"/><circle cx="372.1" cy="271.2" r="2.2" fill="#aa4d30"/><circle cx="369.9" cy="270.9" r="2.4" fill="#aa4d30"/><circle cx="368.3" cy="269.3" r="2.2" fill="#aa4d30"/><circle cx="369.5" cy="269.7" r="0.9" fill="#c6674a"/><circle cx="373.1" cy="266.9" r="0.9" fill="#c6674a"/><circle cx="373.4" cy="266.3" r="1.1" fill="#c6674a"/><circle cx="372.5" cy="267.4" r="0.9" fill="#c6674a"/><circle cx="374.1" cy="265.0" r="1.0" fill="#c6674a"/><circle cx="372.9" cy="264.7" r="0.6" fill="#6a2814"/><circle cx="371.6" cy="269.3" r="0.8" fill="#6a2814"/><circle cx="369.0" cy="269.2" r="0.6" fill="#6a2814"/><circle cx="369.3" cy="269.3" r="0.7" fill="#dc8666"/><path d="M425.7,236.9 L433.8,239.4 L434.6,233.2 L426.1,233.6Z" fill="#aa4d30"/><circle cx="434.5" cy="234.2" r="2.2" fill="#aa4d30"/><circle cx="434.9" cy="236.4" r="2.4" fill="#aa4d30"/><circle cx="433.9" cy="238.4" r="2.2" fill="#aa4d30"/><circle cx="433.7" cy="236.1" r="1.2" fill="#c6674a"/><circle cx="430.2" cy="235.9" r="0.9" fill="#c6674a"/><circle cx="432.5" cy="235.6" r="1.2" fill="#c6674a"/><circle cx="432.1" cy="235.8" r="0.8" fill="#c6674a"/><circle cx="428.8" cy="235.4" r="1.0" fill="#c6674a"/><circle cx="431.6" cy="234.4" r="0.6" fill="#6a2814"/><circle cx="433.3" cy="237.8" r="0.7" fill="#6a2814"/><circle cx="432.1" cy="236.4" r="0.8" fill="#6a2814"/><circle cx="433.6" cy="237.4" r="0.7" fill="#dc8666"/><path d="M424.7,220.6 L433.1,219.2 L431.0,213.4 L423.6,217.4Z" fill="#aa4d30"/><circle cx="431.4" cy="214.3" r="2.2" fill="#aa4d30"/><circle cx="432.7" cy="216.0" r="2.4" fill="#aa4d30"/><circle cx="432.7" cy="218.3" r="2.2" fill="#aa4d30"/><circle cx="430.5" cy="216.6" r="1.0" fill="#c6674a"/><circle cx="431.7" cy="216.6" r="1.1" fill="#c6674a"/><circle cx="427.3" cy="218.5" r="1.0" fill="#c6674a"/><circle cx="432.4" cy="218.4" r="1.3" fill="#c6674a"/><circle cx="431.1" cy="214.6" r="0.8" fill="#c6674a"/><circle cx="428.2" cy="218.6" r="0.7" fill="#6a2814"/><circle cx="427.0" cy="216.9" r="0.6" fill="#6a2814"/><circle cx="426.3" cy="217.3" r="0.7" fill="#6a2814"/><circle cx="432.0" cy="217.6" r="0.7" fill="#dc8666"/><path d="M404.2,198.7 L408.4,191.7 L402.6,189.5 L401.0,197.5Z" fill="#aa4d30"/><circle cx="403.5" cy="189.9" r="2.2" fill="#aa4d30"/><circle cx="405.7" cy="189.9" r="2.4" fill="#aa4d30"/><circle cx="407.4" cy="191.3" r="2.2" fill="#aa4d30"/><circle cx="402.5" cy="195.7" r="1.1" fill="#c6674a"/><circle cx="404.1" cy="196.8" r="1.1" fill="#c6674a"/><circle cx="406.0" cy="191.8" r="1.2" fill="#c6674a"/><circle cx="403.4" cy="195.5" r="1.0" fill="#c6674a"/><circle cx="405.2" cy="195.2" r="1.0" fill="#c6674a"/><circle cx="405.4" cy="192.0" r="0.5" fill="#6a2814"/><circle cx="403.9" cy="195.4" r="0.7" fill="#6a2814"/><circle cx="403.1" cy="195.0" r="0.6" fill="#6a2814"/><circle cx="406.4" cy="191.5" r="0.7" fill="#dc8666"/><path d="M356.5,235.4 L348.6,235.4 L349.7,241.5 L357.1,238.7Z" fill="#aa4d30"/><circle cx="349.5" cy="240.5" r="2.2" fill="#aa4d30"/><circle cx="348.5" cy="238.6" r="2.4" fill="#aa4d30"/><circle cx="348.8" cy="236.4" r="2.2" fill="#aa4d30"/><circle cx="352.9" cy="238.0" r="1.3" fill="#c6674a"/><circle cx="352.0" cy="238.7" r="1.0" fill="#c6674a"/><circle cx="352.8" cy="239.0" r="1.0" fill="#c6674a"/><circle cx="355.5" cy="236.8" r="1.2" fill="#c6674a"/><circle cx="349.8" cy="237.9" r="1.0" fill="#c6674a"/><circle cx="351.8" cy="237.8" r="0.6" fill="#6a2814"/><circle cx="352.0" cy="237.9" r="0.6" fill="#6a2814"/><circle cx="352.4" cy="236.8" r="0.7" fill="#6a2814"/><circle cx="349.4" cy="237.2" r="0.7" fill="#dc8666"/><path d="M378.1,202.3 L375.8,192.8 L369.7,195.7 L375.7,203.4Z" fill="#965eb2"/><circle cx="370.4" cy="195.4" r="2.5" fill="#965eb2"/><circle cx="372.4" cy="193.6" r="2.7" fill="#965eb2"/><circle cx="375.1" cy="193.1" r="2.5" fill="#965eb2"/><circle cx="374.5" cy="199.8" r="1.1" fill="#ad80c8"/><circle cx="373.8" cy="198.0" r="1.0" fill="#ad80c8"/><circle cx="375.3" cy="198.7" r="1.2" fill="#ad80c8"/><circle cx="375.2" cy="199.1" r="1.1" fill="#ad80c8"/><circle cx="373.1" cy="197.3" r="0.9" fill="#ad80c8"/><circle cx="371.7" cy="195.4" r="0.7" fill="#4e2c66"/><circle cx="375.2" cy="199.4" r="0.6" fill="#4e2c66"/><circle cx="374.5" cy="199.8" r="0.8" fill="#4e2c66"/><circle cx="374.0" cy="194.2" r="0.7" fill="#c9a0dc"/><path d="M361.2,222.9 L354.8,220.1 L353.5,226.2 L360.5,226.2Z" fill="#aa4d30"/><circle cx="353.8" cy="225.2" r="2.2" fill="#aa4d30"/><circle cx="353.5" cy="223.0" r="2.4" fill="#aa4d30"/><circle cx="354.6" cy="221.1" r="2.2" fill="#aa4d30"/><circle cx="359.7" cy="225.3" r="1.2" fill="#c6674a"/><circle cx="357.7" cy="224.9" r="1.2" fill="#c6674a"/><circle cx="354.0" cy="224.4" r="1.2" fill="#c6674a"/><circle cx="358.1" cy="222.3" r="1.1" fill="#c6674a"/><circle cx="355.0" cy="222.6" r="0.9" fill="#c6674a"/><circle cx="357.3" cy="223.2" r="0.5" fill="#6a2814"/><circle cx="359.3" cy="223.0" r="0.8" fill="#6a2814"/><circle cx="355.8" cy="224.9" r="0.7" fill="#6a2814"/><circle cx="354.9" cy="222.1" r="0.7" fill="#dc8666"/><path d="M415.8,244.5 L421.2,248.6 L423.8,242.9 L417.3,241.5Z" fill="#aa4d30"/><circle cx="423.4" cy="243.9" r="2.2" fill="#aa4d30"/><circle cx="423.1" cy="246.0" r="2.4" fill="#aa4d30"/><circle cx="421.6" cy="247.7" r="2.2" fill="#aa4d30"/><circle cx="421.9" cy="246.8" r="1.2" fill="#c6674a"/><circle cx="419.3" cy="244.8" r="1.3" fill="#c6674a"/><circle cx="420.4" cy="243.2" r="0.9" fill="#c6674a"/><circle cx="421.8" cy="246.4" r="1.3" fill="#c6674a"/><circle cx="418.4" cy="242.6" r="1.1" fill="#c6674a"/><circle cx="419.8" cy="244.4" r="0.6" fill="#6a2814"/><circle cx="421.0" cy="246.1" r="0.7" fill="#6a2814"/><circle cx="419.8" cy="244.5" r="0.6" fill="#6a2814"/><circle cx="421.5" cy="246.6" r="0.7" fill="#dc8666"/><path d="M391.4,259.8 L390.0,268.7 L396.8,268.1 L394.0,259.6Z" fill="#965eb2"/><circle cx="396.0" cy="268.2" r="2.5" fill="#965eb2"/><circle cx="393.5" cy="269.1" r="2.7" fill="#965eb2"/><circle cx="390.8" cy="268.6" r="2.5" fill="#965eb2"/><circle cx="393.7" cy="264.1" r="1.0" fill="#ad80c8"/><circle cx="392.0" cy="268.2" r="0.9" fill="#ad80c8"/><circle cx="392.0" cy="265.9" r="1.0" fill="#ad80c8"/><circle cx="391.4" cy="267.7" r="0.8" fill="#ad80c8"/><circle cx="393.6" cy="265.4" r="1.0" fill="#ad80c8"/><circle cx="392.0" cy="265.3" r="0.7" fill="#4e2c66"/><circle cx="394.3" cy="267.5" r="0.7" fill="#4e2c66"/><circle cx="394.0" cy="264.1" r="0.7" fill="#4e2c66"/><circle cx="392.2" cy="268.0" r="0.7" fill="#c9a0dc"/><path d="M367.4,248.4 L361.6,251.7 L365.7,256.3 L369.7,251.0Z" fill="#aa4d30"/><circle cx="365.0" cy="255.6" r="2.2" fill="#aa4d30"/><circle cx="363.1" cy="254.5" r="2.4" fill="#aa4d30"/><circle cx="362.3" cy="252.4" r="2.2" fill="#aa4d30"/><circle cx="366.2" cy="253.1" r="1.2" fill="#c6674a"/><circle cx="365.5" cy="251.6" r="1.3" fill="#c6674a"/><circle cx="366.5" cy="251.3" r="1.1" fill="#c6674a"/><circle cx="366.7" cy="251.2" r="1.3" fill="#c6674a"/><circle cx="365.6" cy="253.5" r="1.1" fill="#c6674a"/><circle cx="365.4" cy="253.0" r="0.7" fill="#6a2814"/><circle cx="365.6" cy="251.3" r="0.6" fill="#6a2814"/><circle cx="364.8" cy="253.9" r="0.6" fill="#6a2814"/><circle cx="363.2" cy="252.8" r="0.7" fill="#dc8666"/><path d="M369.0,211.6 L364.8,206.5 L361.0,211.4 L366.9,214.3Z" fill="#aa4d30"/><circle cx="361.6" cy="210.6" r="2.2" fill="#aa4d30"/><circle cx="362.4" cy="208.5" r="2.4" fill="#aa4d30"/><circle cx="364.2" cy="207.3" r="2.2" fill="#aa4d30"/><circle cx="365.2" cy="212.3" r="1.2" fill="#c6674a"/><circle cx="362.7" cy="209.3" r="0.9" fill="#c6674a"/><circle cx="364.3" cy="208.3" r="0.9" fill="#c6674a"/><circle cx="366.0" cy="211.5" r="0.9" fill="#c6674a"/><circle cx="366.3" cy="212.1" r="0.9" fill="#c6674a"/><circle cx="366.5" cy="211.5" r="0.6" fill="#6a2814"/><circle cx="364.3" cy="207.9" r="0.7" fill="#6a2814"/><circle cx="366.3" cy="210.7" r="0.6" fill="#6a2814"/><circle cx="364.0" cy="208.3" r="0.7" fill="#dc8666"/><path d="M411.3,211.6 L418.8,207.0 L414.0,202.2 L409.5,209.7Z" fill="#965eb2"/><circle cx="414.6" cy="202.8" r="2.5" fill="#965eb2"/><circle cx="416.9" cy="204.1" r="2.7" fill="#965eb2"/><circle cx="418.3" cy="206.4" r="2.5" fill="#965eb2"/><circle cx="415.5" cy="205.1" r="1.1" fill="#ad80c8"/><circle cx="415.6" cy="206.5" r="1.2" fill="#ad80c8"/><circle cx="412.1" cy="207.4" r="1.0" fill="#ad80c8"/><circle cx="414.7" cy="203.3" r="0.9" fill="#ad80c8"/><circle cx="412.5" cy="208.2" r="1.2" fill="#ad80c8"/><circle cx="411.7" cy="207.9" r="0.5" fill="#4e2c66"/><circle cx="413.7" cy="208.2" r="0.6" fill="#4e2c66"/><circle cx="414.7" cy="206.3" r="0.6" fill="#4e2c66"/><circle cx="416.9" cy="205.8" r="0.7" fill="#c9a0dc"/><path d="M405.2,254.7 L408.2,262.8 L413.8,259.0 L407.3,253.2Z" fill="#965eb2"/><circle cx="413.2" cy="259.4" r="2.5" fill="#965eb2"/><circle cx="411.4" cy="261.5" r="2.7" fill="#965eb2"/><circle cx="408.9" cy="262.4" r="2.5" fill="#965eb2"/><circle cx="409.7" cy="256.4" r="1.3" fill="#ad80c8"/><circle cx="411.2" cy="258.3" r="0.9" fill="#ad80c8"/><circle cx="410.1" cy="259.5" r="1.2" fill="#ad80c8"/><circle cx="411.1" cy="258.5" r="1.2" fill="#ad80c8"/><circle cx="408.4" cy="255.4" r="1.2" fill="#ad80c8"/><circle cx="410.9" cy="259.4" r="0.6" fill="#4e2c66"/><circle cx="410.6" cy="259.0" r="0.6" fill="#4e2c66"/><circle cx="412.2" cy="260.0" r="0.8" fill="#4e2c66"/><circle cx="409.7" cy="261.2" r="0.7" fill="#c9a0dc"/><path d="M416.0,226.9 L423.9,227.4 L422.5,220.7 L415.5,224.3Z" fill="#965eb2"/><circle cx="425.0" cy="222.6" r="2.4" fill="#965eb2"/><circle cx="423.6" cy="226.3" r="2.4" fill="#965eb2"/><circle cx="421.0" cy="223.3" r="2.4" fill="#965eb2"/><circle cx="423.2" cy="224.1" r="2.0" fill="#965eb2"/><circle cx="423.0" cy="222.9" r="0.9" fill="#ad80c8"/><circle cx="419.2" cy="223.8" r="1.3" fill="#ad80c8"/><circle cx="420.6" cy="225.9" r="1.0" fill="#ad80c8"/><circle cx="420.2" cy="226.3" r="0.9" fill="#ad80c8"/><circle cx="418.2" cy="226.1" r="1.1" fill="#ad80c8"/><circle cx="422.3" cy="226.1" r="0.7" fill="#4e2c66"/><circle cx="421.1" cy="225.3" r="0.7" fill="#4e2c66"/><circle cx="418.5" cy="224.6" r="0.8" fill="#4e2c66"/><circle cx="423.0" cy="225.3" r="0.7" fill="#c9a0dc"/><path d="M395.4,205.5 L397.6,200.1 L391.4,199.3 L392.1,205.0Z" fill="#aa4d30"/><circle cx="392.2" cy="199.3" r="2.4" fill="#aa4d30"/><circle cx="396.0" cy="197.9" r="2.4" fill="#aa4d30"/><circle cx="395.3" cy="201.8" r="2.4" fill="#aa4d30"/><circle cx="394.5" cy="199.7" r="2.0" fill="#aa4d30"/><circle cx="394.2" cy="204.6" r="1.3" fill="#c6674a"/><circle cx="394.2" cy="201.5" r="1.0" fill="#c6674a"/><circle cx="394.7" cy="201.6" r="1.0" fill="#c6674a"/><circle cx="396.0" cy="200.4" r="1.2" fill="#c6674a"/><circle cx="395.2" cy="201.2" r="0.9" fill="#c6674a"/><circle cx="393.5" cy="201.8" r="0.6" fill="#6a2814"/><circle cx="393.5" cy="199.8" r="0.7" fill="#6a2814"/><circle cx="394.1" cy="200.4" r="0.5" fill="#6a2814"/><circle cx="395.6" cy="200.3" r="0.7" fill="#dc8666"/><path d="M380.0,252.1 L376.9,256.2 L382.7,258.5 L383.2,253.4Z" fill="#aa4d30"/><circle cx="380.8" cy="259.4" r="2.4" fill="#aa4d30"/><circle cx="377.5" cy="257.2" r="2.4" fill="#aa4d30"/><circle cx="381.1" cy="255.4" r="2.4" fill="#aa4d30"/><circle cx="379.8" cy="257.3" r="2.0" fill="#aa4d30"/><circle cx="379.6" cy="255.6" r="1.0" fill="#c6674a"/><circle cx="381.6" cy="256.1" r="1.1" fill="#c6674a"/><circle cx="379.1" cy="256.0" r="1.1" fill="#c6674a"/><circle cx="382.1" cy="256.2" r="0.9" fill="#c6674a"/><circle cx="382.1" cy="255.4" r="0.8" fill="#c6674a"/><circle cx="379.2" cy="256.9" r="0.7" fill="#6a2814"/><circle cx="379.1" cy="255.7" r="0.7" fill="#6a2814"/><circle cx="380.9" cy="255.3" r="0.8" fill="#6a2814"/><circle cx="378.9" cy="256.4" r="0.7" fill="#dc8666"/><path d="M369.6,235.2 L365.2,235.1 L367.0,241.0 L370.6,238.5Z" fill="#aa4d30"/><circle cx="368.3" cy="237.4" r="2.4" fill="#aa4d30"/><circle cx="365.6" cy="240.3" r="2.4" fill="#aa4d30"/><circle cx="364.4" cy="236.5" r="2.4" fill="#aa4d30"/><circle cx="366.1" cy="238.1" r="2.0" fill="#aa4d30"/><circle cx="368.9" cy="236.3" r="1.1" fill="#c6674a"/><circle cx="368.3" cy="236.8" r="0.9" fill="#c6674a"/><circle cx="367.0" cy="237.6" r="1.1" fill="#c6674a"/><circle cx="369.2" cy="236.0" r="1.3" fill="#c6674a"/><circle cx="367.2" cy="238.6" r="1.2" fill="#c6674a"/><circle cx="368.9" cy="237.1" r="0.6" fill="#6a2814"/><circle cx="368.0" cy="238.2" r="0.5" fill="#6a2814"/><circle cx="368.1" cy="238.3" r="0.6" fill="#6a2814"/><circle cx="366.2" cy="236.8" r="0.7" fill="#dc8666"/><path d="M385.9,213.6 L386.2,210.2 L380.4,212.3 L382.7,214.8Z" fill="#aa4d30"/><circle cx="382.2" cy="213.3" r="2.4" fill="#aa4d30"/><circle cx="382.1" cy="209.3" r="2.4" fill="#aa4d30"/><circle cx="385.6" cy="211.2" r="2.4" fill="#aa4d30"/><circle cx="383.3" cy="211.3" r="2.0" fill="#aa4d30"/><circle cx="382.9" cy="214.0" r="1.3" fill="#c6674a"/><circle cx="385.2" cy="213.4" r="1.0" fill="#c6674a"/><circle cx="383.9" cy="213.6" r="1.1" fill="#c6674a"/><circle cx="384.3" cy="213.7" r="0.8" fill="#c6674a"/><circle cx="384.6" cy="212.9" r="1.2" fill="#c6674a"/><circle cx="383.8" cy="213.3" r="0.8" fill="#6a2814"/><circle cx="382.9" cy="213.2" r="0.6" fill="#6a2814"/><circle cx="382.9" cy="211.8" r="0.7" fill="#6a2814"/><circle cx="384.6" cy="211.3" r="0.7" fill="#dc8666"/><path d="M402.5,219.5 L405.3,218.4 L400.6,214.3 L399.9,217.3Z" fill="#aa4d30"/><circle cx="405.1" cy="215.4" r="2.4" fill="#aa4d30"/><circle cx="402.7" cy="218.6" r="2.4" fill="#aa4d30"/><circle cx="401.2" cy="214.9" r="2.4" fill="#aa4d30"/><circle cx="403.0" cy="216.3" r="2.0" fill="#aa4d30"/><circle cx="401.5" cy="216.3" r="1.0" fill="#c6674a"/><circle cx="401.8" cy="217.5" r="1.1" fill="#c6674a"/><circle cx="403.6" cy="216.9" r="1.1" fill="#c6674a"/><circle cx="402.7" cy="216.7" r="0.9" fill="#c6674a"/><circle cx="401.8" cy="216.4" r="0.9" fill="#c6674a"/><circle cx="402.1" cy="217.3" r="0.5" fill="#6a2814"/><circle cx="403.0" cy="218.2" r="0.7" fill="#6a2814"/><circle cx="402.0" cy="217.3" r="0.7" fill="#6a2814"/><circle cx="403.6" cy="217.5" r="0.7" fill="#dc8666"/><path d="M406.1,235.9 L408.5,237.8 L409.8,231.8 L406.8,232.6Z" fill="#aa4d30"/><circle cx="406.8" cy="234.7" r="2.4" fill="#aa4d30"/><circle cx="410.3" cy="232.8" r="2.4" fill="#aa4d30"/><circle cx="410.2" cy="236.8" r="2.4" fill="#aa4d30"/><circle cx="409.1" cy="234.8" r="2.0" fill="#aa4d30"/><circle cx="407.6" cy="234.7" r="0.9" fill="#c6674a"/><circle cx="408.4" cy="234.3" r="1.2" fill="#c6674a"/><circle cx="407.5" cy="234.9" r="0.9" fill="#c6674a"/><circle cx="407.9" cy="234.5" r="0.8" fill="#c6674a"/><circle cx="407.0" cy="234.2" r="1.2" fill="#c6674a"/><circle cx="408.5" cy="235.9" r="0.7" fill="#6a2814"/><circle cx="409.3" cy="233.7" r="0.5" fill="#6a2814"/><circle cx="407.1" cy="235.1" r="0.6" fill="#6a2814"/><circle cx="408.4" cy="235.9" r="0.7" fill="#dc8666"/><path d="M396.4,246.1 L396.4,249.1 L401.9,246.2 L399.4,244.5Z" fill="#aa4d30"/><circle cx="398.2" cy="249.8" r="2.4" fill="#aa4d30"/><circle cx="397.8" cy="245.8" r="2.4" fill="#aa4d30"/><circle cx="401.4" cy="247.4" r="2.4" fill="#aa4d30"/><circle cx="399.1" cy="247.7" r="2.0" fill="#aa4d30"/><circle cx="397.1" cy="246.3" r="0.9" fill="#c6674a"/><circle cx="398.0" cy="246.1" r="1.2" fill="#c6674a"/><circle cx="397.9" cy="245.7" r="1.1" fill="#c6674a"/><circle cx="398.6" cy="246.7" r="1.2" fill="#c6674a"/><circle cx="397.6" cy="248.0" r="1.0" fill="#c6674a"/><circle cx="398.2" cy="245.8" r="0.5" fill="#6a2814"/><circle cx="398.8" cy="246.9" r="0.7" fill="#6a2814"/><circle cx="398.2" cy="247.7" r="0.7" fill="#6a2814"/><circle cx="397.8" cy="247.8" r="0.7" fill="#dc8666"/><path d="M376.4,223.6 L373.7,220.2 L371.1,226.5 L375.4,226.0Z" fill="#965eb2"/><circle cx="371.3" cy="225.4" r="2.4" fill="#965eb2"/><circle cx="371.3" cy="221.4" r="2.4" fill="#965eb2"/><circle cx="374.7" cy="223.4" r="2.4" fill="#965eb2"/><circle cx="372.4" cy="223.4" r="2.0" fill="#965eb2"/><circle cx="373.5" cy="223.2" r="0.9" fill="#ad80c8"/><circle cx="372.8" cy="223.7" r="1.1" fill="#ad80c8"/><circle cx="375.3" cy="223.6" r="1.0" fill="#ad80c8"/><circle cx="373.8" cy="222.4" r="1.1" fill="#ad80c8"/><circle cx="373.7" cy="224.1" r="0.9" fill="#ad80c8"/><circle cx="373.6" cy="222.2" r="0.5" fill="#4e2c66"/><circle cx="375.1" cy="224.6" r="0.5" fill="#4e2c66"/><circle cx="373.8" cy="224.5" r="0.6" fill="#4e2c66"/><circle cx="373.3" cy="222.5" r="0.7" fill="#c9a0dc"/><path d="M383.3,238.6 L381.7,238.6 L386.9,241.9 L386.2,240.4Z" fill="#aa4d30"/><circle cx="384.7" cy="237.9" r="2.4" fill="#aa4d30"/><circle cx="386.1" cy="241.7" r="2.4" fill="#aa4d30"/><circle cx="382.2" cy="241.0" r="2.4" fill="#aa4d30"/><circle cx="384.3" cy="240.2" r="2.0" fill="#aa4d30"/><circle cx="383.2" cy="239.1" r="0.9" fill="#c6674a"/><circle cx="384.3" cy="239.6" r="1.2" fill="#c6674a"/><circle cx="385.4" cy="240.4" r="1.0" fill="#c6674a"/><circle cx="383.1" cy="239.0" r="1.1" fill="#c6674a"/><circle cx="383.2" cy="239.4" r="1.0" fill="#c6674a"/><circle cx="383.6" cy="239.4" r="0.7" fill="#6a2814"/><circle cx="385.3" cy="240.4" r="0.7" fill="#6a2814"/><circle cx="385.1" cy="240.2" r="0.6" fill="#6a2814"/><circle cx="383.6" cy="239.2" r="0.7" fill="#dc8666"/><path d="M393.5,228.9 L394.0,230.8 L388.7,227.5 L390.6,227.1Z" fill="#aa4d30"/><circle cx="390.5" cy="227.0" r="2.4" fill="#aa4d30"/><circle cx="393.6" cy="229.4" r="2.4" fill="#aa4d30"/><circle cx="390.0" cy="231.0" r="2.4" fill="#aa4d30"/><circle cx="391.3" cy="229.1" r="2.0" fill="#aa4d30"/><circle cx="392.9" cy="229.7" r="1.1" fill="#c6674a"/><circle cx="392.8" cy="229.3" r="0.9" fill="#c6674a"/><circle cx="393.1" cy="229.7" r="1.0" fill="#c6674a"/><circle cx="391.0" cy="227.7" r="0.8" fill="#c6674a"/><circle cx="391.2" cy="228.7" r="1.2" fill="#c6674a"/><circle cx="390.0" cy="228.1" r="0.6" fill="#6a2814"/><circle cx="391.2" cy="228.1" r="0.5" fill="#6a2814"/><circle cx="391.4" cy="228.2" r="0.6" fill="#6a2814"/><circle cx="392.1" cy="230.2" r="0.7" fill="#dc8666"/>
</svg>
<div class="line" style="left:208px;top:153px;width:121px"></div>
<div class="line" style="left:448px;top:153px;width:123px"></div>
<div class="line" style="left:185px;top:227px;width:107px"></div>
<div class="line" style="left:485px;top:227px;width:118px"></div>
<div class="line" style="left:208px;top:301px;width:121px"></div>
<div class="line" style="left:448px;top:301px;width:122px"></div>
<div class="box" style="left:329px;top:141px"></div>
<div class="box" style="left:417px;top:141px"></div>
<div class="box" style="left:291px;top:216px"></div>
<div class="box" style="left:455px;top:216px"></div>
<div class="box" style="left:329px;top:290px"></div>
<div class="box" style="left:417px;top:290px"></div>
<svg class="abs" style="left:0;top:0" width="768" height="457">
<!-- virus icon -->
<g fill="#fff" stroke="#fff" stroke-width="1.8" stroke-linejoin="round"><circle cx="344.0" cy="156.0" r="4.9"/><rect x="343.55" y="149.10" width="0.9" height="2.6" transform="rotate(0 344.00 150.40)"/><rect x="342.90" y="147.90" width="2.2" height="1.8" rx="0.5" transform="rotate(0 344.00 148.80)"/><rect x="347.51" y="150.74" width="0.9" height="2.6" transform="rotate(45 347.96 152.04)"/><circle cx="349.09" cy="150.91" r="1.05"/><rect x="349.15" y="154.70" width="0.9" height="2.6" transform="rotate(90 349.60 156.00)"/><rect x="350.10" y="155.10" width="2.2" height="1.8" rx="0.5" transform="rotate(90 351.20 156.00)"/><rect x="347.51" y="158.66" width="0.9" height="2.6" transform="rotate(135 347.96 159.96)"/><circle cx="349.09" cy="161.09" r="1.05"/><rect x="343.55" y="160.30" width="0.9" height="2.6" transform="rotate(180 344.00 161.60)"/><rect x="342.90" y="162.30" width="2.2" height="1.8" rx="0.5" transform="rotate(180 344.00 163.20)"/><rect x="339.59" y="158.66" width="0.9" height="2.6" transform="rotate(225 340.04 159.96)"/><circle cx="338.91" cy="161.09" r="1.05"/><rect x="337.95" y="154.70" width="0.9" height="2.6" transform="rotate(270 338.40 156.00)"/><rect x="335.70" y="155.10" width="2.2" height="1.8" rx="0.5" transform="rotate(270 336.80 156.00)"/><rect x="339.59" y="150.74" width="0.9" height="2.6" transform="rotate(315 340.04 152.04)"/><circle cx="338.91" cy="150.91" r="1.05"/></g>
<g fill="#33628b" stroke="none"><circle cx="344.0" cy="156.0" r="4.9"/><rect x="343.55" y="149.10" width="0.9" height="2.6" transform="rotate(0 344.00 150.40)"/><rect x="342.90" y="147.90" width="2.2" height="1.8" rx="0.5" transform="rotate(0 344.00 148.80)"/><rect x="347.51" y="150.74" width="0.9" height="2.6" transform="rotate(45 347.96 152.04)"/><circle cx="349.09" cy="150.91" r="1.05"/><rect x="349.15" y="154.70" width="0.9" height="2.6" transform="rotate(90 349.60 156.00)"/><rect x="350.10" y="155.10" width="2.2" height="1.8" rx="0.5" transform="rotate(90 351.20 156.00)"/><rect x="347.51" y="158.66" width="0.9" height="2.6" transform="rotate(135 347.96 159.96)"/><circle cx="349.09" cy="161.09" r="1.05"/><rect x="343.55" y="160.30" width="0.9" height="2.6" transform="rotate(180 344.00 161.60)"/><rect x="342.90" y="162.30" width="2.2" height="1.8" rx="0.5" transform="rotate(180 344.00 163.20)"/><rect x="339.59" y="158.66" width="0.9" height="2.6" transform="rotate(225 340.04 159.96)"/><circle cx="338.91" cy="161.09" r="1.05"/><rect x="337.95" y="154.70" width="0.9" height="2.6" transform="rotate(270 338.40 156.00)"/><rect x="335.70" y="155.10" width="2.2" height="1.8" rx="0.5" transform="rotate(270 336.80 156.00)"/><rect x="339.59" y="150.74" width="0.9" height="2.6" transform="rotate(315 340.04 152.04)"/><circle cx="338.91" cy="150.91" r="1.05"/></g>
<g fill="none" stroke="#fff" stroke-width="0.9">
<circle cx="342.4" cy="155.4" r="1.9"/>
<circle cx="345.5" cy="159" r="1.0"/>
</g>
<circle cx="346.4" cy="154.3" r="0.55" fill="#fff"/>
<!-- epidemiology icon -->
<g fill="none" stroke="#fff" stroke-width="0.9" stroke-linecap="round" stroke-linejoin="round">
<path d="M426.5,154.2 V148.6 Q426.5,146.6 428.5,146.6 H439 Q441,146.6 441,148.6 V160.2 Q441,162.1 439.1,162.1 H435.2"/>
<path d="M428.3,153.4 V150.6 Q428.3,149 429.9,149 H436 L439.5,152.5 V158.6 Q439.5,160.4 437.8,160.4 H434.6"/>
<path d="M436,149.2 V151.6 Q436,152.5 436.9,152.5 H439.3"/>
<circle cx="429.6" cy="159.1" r="3.6" stroke-width="1.9"/>
<path d="M432.4,162.1 L435.6,165.5" stroke-width="1.5"/>
</g>
<circle cx="429.6" cy="159.1" r="3.6" fill="none" stroke="#33628b" stroke-width="0.35"/>
<!-- stop the spread icon -->
<ellipse cx="301.5" cy="230" rx="6.1" ry="6.8" fill="none" stroke="#fff" stroke-width="1.15"/>
<path fill="#fff" fill-rule="evenodd" d="M296.2,229.3 Q296.4,223.6 301.5,223.4 Q306.6,223.6 306.8,229.3 Z M298,224.9 H300.3 Q300.8,224.9 300.8,225.4 V227.1 Q300.8,227.6 300.3,227.6 H298.3 Q297.8,227.6 297.8,227.1 V225.4 Z M302.4,224.9 H304.8 Q305.2,224.9 305.2,225.4 V227.1 Q305.2,227.6 304.8,227.6 H302.7 Q302.2,227.6 302.2,227.1 V225.4 Z"/>
<path d="M295.8,232.4 L299.4,234.1 Q301.5,232.6 303.6,234.1 L307.2,232.4" fill="none" stroke="#fff" stroke-width="1.05" stroke-linejoin="round"/>
<g stroke="#fff" stroke-linecap="round" fill="none">
<line x1="310.2" y1="225.5" x2="316.4" y2="224.9" stroke-width="1"/>
<line x1="308.4" y1="236.4" x2="313.8" y2="239.4" stroke-width="0.95"/>
<line x1="315.2" y1="230.4" x2="316.8" y2="229.4" stroke-width="0.7"/>
<line x1="310.2" y1="232.4" x2="311.6" y2="232.6" stroke-width="0.7"/>
</g>
<g fill="#fff">
<circle cx="311.8" cy="228.4" r="0.75"/>
<circle cx="315" cy="230.8" r="0.85"/>
<circle cx="308.6" cy="234.3" r="0.5"/>
<circle cx="315.3" cy="235.5" r="0.7"/>
</g>
<!-- syringe -->
<g fill="#fff">
<rect x="466.2" y="218.3" width="6.7" height="2.6" rx="1.2"/>
<path d="M468.4,220.8 H470.8 L471,224.2 H468.2 Z"/>
<rect x="464.9" y="224.1" width="9" height="1.7" rx="0.8"/>
<rect x="469.1" y="227.8" width="2.3" height="6" opacity="0.9"/>
</g>
<path d="M467.2,225.8 V234.6 L469.7,236.8 L472.3,234.6 V225.8" fill="none" stroke="#fff" stroke-width="0.95" stroke-linejoin="round"/>
<g stroke="#fff" stroke-width="0.75">
<line x1="467.2" y1="229.2" x2="469" y2="229.2"/>
<line x1="467.2" y1="231.2" x2="469" y2="231.2"/>
<line x1="467.2" y1="233.2" x2="469" y2="233.2"/>
</g>
<circle cx="469.7" cy="236.4" r="0.8" fill="none" stroke="#fff" stroke-width="0.7"/>
<line x1="469.7" y1="237" x2="469.7" y2="241.5" stroke="#fff" stroke-width="0.95"/>
<!-- warning -->
<path d="M343.7,298.5 Q344.7,296.9 345.7,298.5 L352,309 Q352.7,310.3 351.2,310.3 H338.2 Q336.7,310.3 337.4,309 Z" fill="none" stroke="#fff" stroke-width="1.05" stroke-linejoin="round" opacity="0.95"/>
<path d="M343.6,301.8 Q344.7,300.4 345.8,301.8 L345.4,305.6 Q344.7,306.2 344,305.6 Z" fill="#fff" opacity="0.8"/>
<ellipse cx="344.7" cy="307.6" rx="1.05" ry="0.85" fill="#fff" opacity="0.8"/>
<!-- book -->
<rect x="423.9" y="298.3" width="18.6" height="11.3" rx="1.1" fill="none" stroke="#fff" stroke-width="1.1" opacity="0.95"/>
<rect x="432.2" y="298.3" width="1.6" height="11.3" fill="#fff" opacity="0.85"/>
<g fill="#fff" opacity="0.72">
<rect x="425.4" y="299.9" width="6" height="1.05"/>
<rect x="425.4" y="301.8" width="6" height="1.05"/>
<rect x="425.4" y="303.7" width="6" height="1.05"/>
<rect x="434.6" y="299.9" width="6" height="1.05"/>
<rect x="434.6" y="301.8" width="6" height="1.05"/>
<rect x="434.6" y="303.7" width="6" height="1.05"/>
</g>
<g fill="#fff" opacity="0.18">
<rect x="425.4" y="305.7" width="6" height="0.8"/>
<rect x="425.4" y="307.3" width="6" height="0.8"/>
<rect x="434.6" y="305.7" width="6" height="0.8"/>
<rect x="434.6" y="307.3" width="6" height="0.8"/>
</g>
<path d="M438.4,309.6 V311.4 Q438.4,311.9 438.9,311.9 H440.3 Q440.8,311.9 440.8,311.4 V309.6" fill="none" stroke="#fff" stroke-width="0.8"/>
</svg>

<div class="t r" style="right:444px;top:140.3px">Understanding RSV</div>
<div class="s r" style="right:444px;top:157.4px">RSV and the body</div>
<div class="t" style="left:455px;top:139.7px">Epidemiology</div>
<div class="s" style="left:455px;top:156.8px">The hidden epidemic</div>
<div class="t r" style="right:482.2px;top:214.0px">Stop the Spread</div>
<div class="s r" style="right:482.2px;top:229.9px">Protect yourself and others</div>
<div class="t" style="left:493px;top:214.0px">Vaccine</div>
<div class="s" style="left:493px;top:230.8px;line-height:9.4px">How does the vaccine work &amp; how<br>efficient is it?</div>
<div class="t r" style="right:445.7px;top:289.0px">Risk Factors</div>
<div class="s r" style="right:446px;top:304.5px">Who is at greater risk?</div>
<div class="t" style="left:455px;top:288.4px">More RSV Content</div>
<div class="s" style="left:455px;top:304.8px;line-height:9.4px">Webinars, Podcasts, Interactive<br>Game &amp; Resources</div>
<div id="copy" class="abs">©2023 American College of Chest Physicians.&nbsp; No part of this publication may be reproduced/used in any manner without permission from the publisher.</div>
</body></html>
